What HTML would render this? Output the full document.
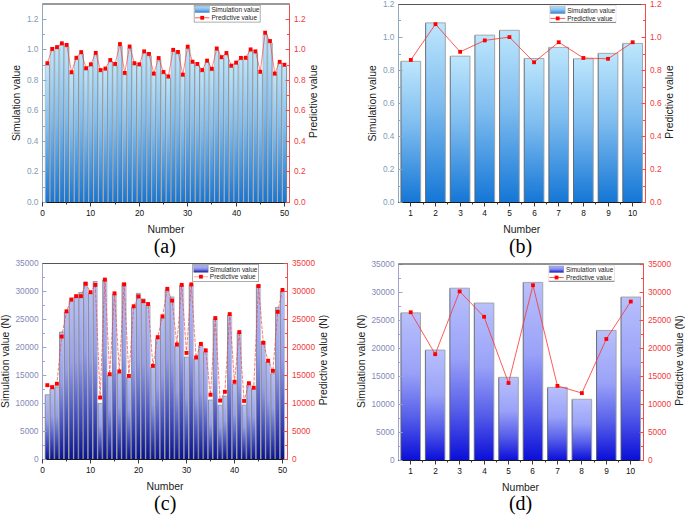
<!DOCTYPE html>
<html><head><meta charset="utf-8"><style>
html,body{margin:0;padding:0;background:#fff;}
svg{display:block;font-family:"Liberation Sans", sans-serif;}
</style></head><body>
<svg width="685" height="516" viewBox="0 0 685 516">
<defs><linearGradient id="ga" x1="0" y1="0" x2="0" y2="1"><stop offset="0" stop-color="#bde6fc"/><stop offset="0.45" stop-color="#7fbdf0"/><stop offset="1" stop-color="#1476d6"/></linearGradient><linearGradient id="gla" x1="0" y1="0" x2="0" y2="1"><stop offset="0" stop-color="#b0dcf8"/><stop offset="0.5" stop-color="#80bcf0"/><stop offset="1" stop-color="#2a80d8"/></linearGradient><linearGradient id="gb" x1="0" y1="0" x2="0" y2="1"><stop offset="0" stop-color="#bde6fc"/><stop offset="0.45" stop-color="#7fbdf0"/><stop offset="1" stop-color="#1476d6"/></linearGradient><linearGradient id="glb" x1="0" y1="0" x2="0" y2="1"><stop offset="0" stop-color="#b0dcf8"/><stop offset="0.5" stop-color="#80bcf0"/><stop offset="1" stop-color="#2a80d8"/></linearGradient><linearGradient id="gc" x1="0" y1="0" x2="0" y2="1"><stop offset="0" stop-color="#b8c0f8"/><stop offset="0.4" stop-color="#949eec"/><stop offset="0.7" stop-color="#4a56c8"/><stop offset="1" stop-color="#08128e"/></linearGradient><linearGradient id="glc" x1="0" y1="0" x2="0" y2="1"><stop offset="0" stop-color="#b0b8fc"/><stop offset="0.5" stop-color="#8a92ec"/><stop offset="1" stop-color="#1a1c9a"/></linearGradient><linearGradient id="gd" x1="0" y1="0" x2="0" y2="1"><stop offset="0" stop-color="#b8c0fc"/><stop offset="0.4" stop-color="#9aa2f8"/><stop offset="0.7" stop-color="#5860ea"/><stop offset="1" stop-color="#0a0ed8"/></linearGradient><linearGradient id="gld" x1="0" y1="0" x2="0" y2="1"><stop offset="0" stop-color="#b0b8fc"/><stop offset="0.5" stop-color="#8088f0"/><stop offset="1" stop-color="#1010c8"/></linearGradient></defs>
<rect width="685" height="516" fill="#fff"/>
<rect x="45.21" y="64.99" width="4.26" height="137.51" fill="url(#ga)"/>
<path d="M45.21 202.5V64.99" stroke="#b4b4b4" stroke-width="0.75" fill="none"/>
<path d="M45.21 64.99H49.47" stroke="#8a8a8a" stroke-width="0.75" fill="none"/>
<path d="M49.47 64.99V202.5" stroke="#6c6c6c" stroke-width="0.75" fill="none"/>
<rect x="50.05" y="50.7" width="4.26" height="151.8" fill="url(#ga)"/>
<path d="M50.05 202.5V50.7" stroke="#b4b4b4" stroke-width="0.75" fill="none"/>
<path d="M50.05 50.7H54.31" stroke="#8a8a8a" stroke-width="0.75" fill="none"/>
<path d="M54.31 50.7V202.5" stroke="#6c6c6c" stroke-width="0.75" fill="none"/>
<rect x="54.89" y="48.88" width="4.26" height="153.62" fill="url(#ga)"/>
<path d="M54.89 202.5V48.88" stroke="#b4b4b4" stroke-width="0.75" fill="none"/>
<path d="M54.89 48.88H59.15" stroke="#8a8a8a" stroke-width="0.75" fill="none"/>
<path d="M59.15 48.88V202.5" stroke="#6c6c6c" stroke-width="0.75" fill="none"/>
<rect x="59.73" y="45.08" width="4.26" height="157.42" fill="url(#ga)"/>
<path d="M59.73 202.5V45.08" stroke="#b4b4b4" stroke-width="0.75" fill="none"/>
<path d="M59.73 45.08H63.99" stroke="#8a8a8a" stroke-width="0.75" fill="none"/>
<path d="M63.99 45.08V202.5" stroke="#6c6c6c" stroke-width="0.75" fill="none"/>
<rect x="64.57" y="46.75" width="4.26" height="155.75" fill="url(#ga)"/>
<path d="M64.57 202.5V46.75" stroke="#b4b4b4" stroke-width="0.75" fill="none"/>
<path d="M64.57 46.75H68.83" stroke="#8a8a8a" stroke-width="0.75" fill="none"/>
<path d="M68.83 46.75V202.5" stroke="#6c6c6c" stroke-width="0.75" fill="none"/>
<rect x="69.41" y="73.96" width="4.26" height="128.54" fill="url(#ga)"/>
<path d="M69.41 202.5V73.96" stroke="#b4b4b4" stroke-width="0.75" fill="none"/>
<path d="M69.41 73.96H73.67" stroke="#8a8a8a" stroke-width="0.75" fill="none"/>
<path d="M73.67 73.96V202.5" stroke="#6c6c6c" stroke-width="0.75" fill="none"/>
<rect x="74.25" y="59.52" width="4.26" height="142.98" fill="url(#ga)"/>
<path d="M74.25 202.5V59.52" stroke="#b4b4b4" stroke-width="0.75" fill="none"/>
<path d="M74.25 59.52H78.51" stroke="#8a8a8a" stroke-width="0.75" fill="none"/>
<path d="M78.51 59.52V202.5" stroke="#6c6c6c" stroke-width="0.75" fill="none"/>
<rect x="79.09" y="53.9" width="4.26" height="148.6" fill="url(#ga)"/>
<path d="M79.09 202.5V53.9" stroke="#b4b4b4" stroke-width="0.75" fill="none"/>
<path d="M79.09 53.9H83.35" stroke="#8a8a8a" stroke-width="0.75" fill="none"/>
<path d="M83.35 53.9V202.5" stroke="#6c6c6c" stroke-width="0.75" fill="none"/>
<rect x="83.93" y="70.01" width="4.26" height="132.49" fill="url(#ga)"/>
<path d="M83.93 202.5V70.01" stroke="#b4b4b4" stroke-width="0.75" fill="none"/>
<path d="M83.93 70.01H88.19" stroke="#8a8a8a" stroke-width="0.75" fill="none"/>
<path d="M88.19 70.01V202.5" stroke="#6c6c6c" stroke-width="0.75" fill="none"/>
<rect x="88.77" y="66.06" width="4.26" height="136.44" fill="url(#ga)"/>
<path d="M88.77 202.5V66.06" stroke="#b4b4b4" stroke-width="0.75" fill="none"/>
<path d="M88.77 66.06H93.03" stroke="#8a8a8a" stroke-width="0.75" fill="none"/>
<path d="M93.03 66.06V202.5" stroke="#6c6c6c" stroke-width="0.75" fill="none"/>
<rect x="93.61" y="54.66" width="4.26" height="147.84" fill="url(#ga)"/>
<path d="M93.61 202.5V54.66" stroke="#b4b4b4" stroke-width="0.75" fill="none"/>
<path d="M93.61 54.66H97.87" stroke="#8a8a8a" stroke-width="0.75" fill="none"/>
<path d="M97.87 54.66V202.5" stroke="#6c6c6c" stroke-width="0.75" fill="none"/>
<rect x="98.45" y="71.83" width="4.26" height="130.67" fill="url(#ga)"/>
<path d="M98.45 202.5V71.83" stroke="#b4b4b4" stroke-width="0.75" fill="none"/>
<path d="M98.45 71.83H102.71" stroke="#8a8a8a" stroke-width="0.75" fill="none"/>
<path d="M102.71 71.83V202.5" stroke="#6c6c6c" stroke-width="0.75" fill="none"/>
<rect x="103.29" y="70.31" width="4.26" height="132.19" fill="url(#ga)"/>
<path d="M103.29 202.5V70.31" stroke="#b4b4b4" stroke-width="0.75" fill="none"/>
<path d="M103.29 70.31H107.55" stroke="#8a8a8a" stroke-width="0.75" fill="none"/>
<path d="M107.55 70.31V202.5" stroke="#6c6c6c" stroke-width="0.75" fill="none"/>
<rect x="108.13" y="61.8" width="4.26" height="140.7" fill="url(#ga)"/>
<path d="M108.13 202.5V61.8" stroke="#b4b4b4" stroke-width="0.75" fill="none"/>
<path d="M108.13 61.8H112.39" stroke="#8a8a8a" stroke-width="0.75" fill="none"/>
<path d="M112.39 61.8V202.5" stroke="#6c6c6c" stroke-width="0.75" fill="none"/>
<rect x="112.97" y="65.75" width="4.26" height="136.75" fill="url(#ga)"/>
<path d="M112.97 202.5V65.75" stroke="#b4b4b4" stroke-width="0.75" fill="none"/>
<path d="M112.97 65.75H117.23" stroke="#8a8a8a" stroke-width="0.75" fill="none"/>
<path d="M117.23 65.75V202.5" stroke="#6c6c6c" stroke-width="0.75" fill="none"/>
<rect x="117.81" y="45.84" width="4.26" height="156.66" fill="url(#ga)"/>
<path d="M117.81 202.5V45.84" stroke="#b4b4b4" stroke-width="0.75" fill="none"/>
<path d="M117.81 45.84H122.07" stroke="#8a8a8a" stroke-width="0.75" fill="none"/>
<path d="M122.07 45.84V202.5" stroke="#6c6c6c" stroke-width="0.75" fill="none"/>
<rect x="122.65" y="74.72" width="4.26" height="127.78" fill="url(#ga)"/>
<path d="M122.65 202.5V74.72" stroke="#b4b4b4" stroke-width="0.75" fill="none"/>
<path d="M122.65 74.72H126.91" stroke="#8a8a8a" stroke-width="0.75" fill="none"/>
<path d="M126.91 74.72V202.5" stroke="#6c6c6c" stroke-width="0.75" fill="none"/>
<rect x="127.49" y="48.27" width="4.26" height="154.23" fill="url(#ga)"/>
<path d="M127.49 202.5V48.27" stroke="#b4b4b4" stroke-width="0.75" fill="none"/>
<path d="M127.49 48.27H131.75" stroke="#8a8a8a" stroke-width="0.75" fill="none"/>
<path d="M131.75 48.27V202.5" stroke="#6c6c6c" stroke-width="0.75" fill="none"/>
<rect x="132.33" y="64.99" width="4.26" height="137.51" fill="url(#ga)"/>
<path d="M132.33 202.5V64.99" stroke="#b4b4b4" stroke-width="0.75" fill="none"/>
<path d="M132.33 64.99H136.59" stroke="#8a8a8a" stroke-width="0.75" fill="none"/>
<path d="M136.59 64.99V202.5" stroke="#6c6c6c" stroke-width="0.75" fill="none"/>
<rect x="137.17" y="66.06" width="4.26" height="136.44" fill="url(#ga)"/>
<path d="M137.17 202.5V66.06" stroke="#b4b4b4" stroke-width="0.75" fill="none"/>
<path d="M137.17 66.06H141.43" stroke="#8a8a8a" stroke-width="0.75" fill="none"/>
<path d="M141.43 66.06V202.5" stroke="#6c6c6c" stroke-width="0.75" fill="none"/>
<rect x="142.01" y="53.14" width="4.26" height="149.36" fill="url(#ga)"/>
<path d="M142.01 202.5V53.14" stroke="#b4b4b4" stroke-width="0.75" fill="none"/>
<path d="M142.01 53.14H146.27" stroke="#8a8a8a" stroke-width="0.75" fill="none"/>
<path d="M146.27 53.14V202.5" stroke="#6c6c6c" stroke-width="0.75" fill="none"/>
<rect x="146.85" y="55.72" width="4.26" height="146.78" fill="url(#ga)"/>
<path d="M146.85 202.5V55.72" stroke="#b4b4b4" stroke-width="0.75" fill="none"/>
<path d="M146.85 55.72H151.11" stroke="#8a8a8a" stroke-width="0.75" fill="none"/>
<path d="M151.11 55.72V202.5" stroke="#6c6c6c" stroke-width="0.75" fill="none"/>
<rect x="151.69" y="75.33" width="4.26" height="127.17" fill="url(#ga)"/>
<path d="M151.69 202.5V75.33" stroke="#b4b4b4" stroke-width="0.75" fill="none"/>
<path d="M151.69 75.33H155.95" stroke="#8a8a8a" stroke-width="0.75" fill="none"/>
<path d="M155.95 75.33V202.5" stroke="#6c6c6c" stroke-width="0.75" fill="none"/>
<rect x="156.53" y="59.82" width="4.26" height="142.68" fill="url(#ga)"/>
<path d="M156.53 202.5V59.82" stroke="#b4b4b4" stroke-width="0.75" fill="none"/>
<path d="M156.53 59.82H160.79" stroke="#8a8a8a" stroke-width="0.75" fill="none"/>
<path d="M160.79 59.82V202.5" stroke="#6c6c6c" stroke-width="0.75" fill="none"/>
<rect x="161.37" y="73.81" width="4.26" height="128.69" fill="url(#ga)"/>
<path d="M161.37 202.5V73.81" stroke="#b4b4b4" stroke-width="0.75" fill="none"/>
<path d="M161.37 73.81H165.63" stroke="#8a8a8a" stroke-width="0.75" fill="none"/>
<path d="M165.63 73.81V202.5" stroke="#6c6c6c" stroke-width="0.75" fill="none"/>
<rect x="166.21" y="78.22" width="4.26" height="124.28" fill="url(#ga)"/>
<path d="M166.21 202.5V78.22" stroke="#b4b4b4" stroke-width="0.75" fill="none"/>
<path d="M166.21 78.22H170.47" stroke="#8a8a8a" stroke-width="0.75" fill="none"/>
<path d="M170.47 78.22V202.5" stroke="#6c6c6c" stroke-width="0.75" fill="none"/>
<rect x="171.05" y="51.62" width="4.26" height="150.88" fill="url(#ga)"/>
<path d="M171.05 202.5V51.62" stroke="#b4b4b4" stroke-width="0.75" fill="none"/>
<path d="M171.05 51.62H175.31" stroke="#8a8a8a" stroke-width="0.75" fill="none"/>
<path d="M175.31 51.62V202.5" stroke="#6c6c6c" stroke-width="0.75" fill="none"/>
<rect x="175.89" y="53.74" width="4.26" height="148.76" fill="url(#ga)"/>
<path d="M175.89 202.5V53.74" stroke="#b4b4b4" stroke-width="0.75" fill="none"/>
<path d="M175.89 53.74H180.15" stroke="#8a8a8a" stroke-width="0.75" fill="none"/>
<path d="M180.15 53.74V202.5" stroke="#6c6c6c" stroke-width="0.75" fill="none"/>
<rect x="180.73" y="76.39" width="4.26" height="126.11" fill="url(#ga)"/>
<path d="M180.73 202.5V76.39" stroke="#b4b4b4" stroke-width="0.75" fill="none"/>
<path d="M180.73 76.39H184.99" stroke="#8a8a8a" stroke-width="0.75" fill="none"/>
<path d="M184.99 76.39V202.5" stroke="#6c6c6c" stroke-width="0.75" fill="none"/>
<rect x="185.57" y="48.42" width="4.26" height="154.08" fill="url(#ga)"/>
<path d="M185.57 202.5V48.42" stroke="#b4b4b4" stroke-width="0.75" fill="none"/>
<path d="M185.57 48.42H189.83" stroke="#8a8a8a" stroke-width="0.75" fill="none"/>
<path d="M189.83 48.42V202.5" stroke="#6c6c6c" stroke-width="0.75" fill="none"/>
<rect x="190.41" y="63.47" width="4.26" height="139.03" fill="url(#ga)"/>
<path d="M190.41 202.5V63.47" stroke="#b4b4b4" stroke-width="0.75" fill="none"/>
<path d="M190.41 63.47H194.67" stroke="#8a8a8a" stroke-width="0.75" fill="none"/>
<path d="M194.67 63.47V202.5" stroke="#6c6c6c" stroke-width="0.75" fill="none"/>
<rect x="195.25" y="65.75" width="4.26" height="136.75" fill="url(#ga)"/>
<path d="M195.25 202.5V65.75" stroke="#b4b4b4" stroke-width="0.75" fill="none"/>
<path d="M195.25 65.75H199.51" stroke="#8a8a8a" stroke-width="0.75" fill="none"/>
<path d="M199.51 65.75V202.5" stroke="#6c6c6c" stroke-width="0.75" fill="none"/>
<rect x="200.09" y="71.83" width="4.26" height="130.67" fill="url(#ga)"/>
<path d="M200.09 202.5V71.83" stroke="#b4b4b4" stroke-width="0.75" fill="none"/>
<path d="M200.09 71.83H204.35" stroke="#8a8a8a" stroke-width="0.75" fill="none"/>
<path d="M204.35 71.83V202.5" stroke="#6c6c6c" stroke-width="0.75" fill="none"/>
<rect x="204.93" y="62.41" width="4.26" height="140.09" fill="url(#ga)"/>
<path d="M204.93 202.5V62.41" stroke="#b4b4b4" stroke-width="0.75" fill="none"/>
<path d="M204.93 62.41H209.19" stroke="#8a8a8a" stroke-width="0.75" fill="none"/>
<path d="M209.19 62.41V202.5" stroke="#6c6c6c" stroke-width="0.75" fill="none"/>
<rect x="209.77" y="70.62" width="4.26" height="131.88" fill="url(#ga)"/>
<path d="M209.77 202.5V70.62" stroke="#b4b4b4" stroke-width="0.75" fill="none"/>
<path d="M209.77 70.62H214.03" stroke="#8a8a8a" stroke-width="0.75" fill="none"/>
<path d="M214.03 70.62V202.5" stroke="#6c6c6c" stroke-width="0.75" fill="none"/>
<rect x="214.61" y="50.25" width="4.26" height="152.25" fill="url(#ga)"/>
<path d="M214.61 202.5V50.25" stroke="#b4b4b4" stroke-width="0.75" fill="none"/>
<path d="M214.61 50.25H218.87" stroke="#8a8a8a" stroke-width="0.75" fill="none"/>
<path d="M218.87 50.25V202.5" stroke="#6c6c6c" stroke-width="0.75" fill="none"/>
<rect x="219.45" y="58.91" width="4.26" height="143.59" fill="url(#ga)"/>
<path d="M219.45 202.5V58.91" stroke="#b4b4b4" stroke-width="0.75" fill="none"/>
<path d="M219.45 58.91H223.71" stroke="#8a8a8a" stroke-width="0.75" fill="none"/>
<path d="M223.71 58.91V202.5" stroke="#6c6c6c" stroke-width="0.75" fill="none"/>
<rect x="224.29" y="54.81" width="4.26" height="147.69" fill="url(#ga)"/>
<path d="M224.29 202.5V54.81" stroke="#b4b4b4" stroke-width="0.75" fill="none"/>
<path d="M224.29 54.81H228.55" stroke="#8a8a8a" stroke-width="0.75" fill="none"/>
<path d="M228.55 54.81V202.5" stroke="#6c6c6c" stroke-width="0.75" fill="none"/>
<rect x="229.13" y="67.42" width="4.26" height="135.08" fill="url(#ga)"/>
<path d="M229.13 202.5V67.42" stroke="#b4b4b4" stroke-width="0.75" fill="none"/>
<path d="M229.13 67.42H233.39" stroke="#8a8a8a" stroke-width="0.75" fill="none"/>
<path d="M233.39 67.42V202.5" stroke="#6c6c6c" stroke-width="0.75" fill="none"/>
<rect x="233.97" y="64.38" width="4.26" height="138.12" fill="url(#ga)"/>
<path d="M233.97 202.5V64.38" stroke="#b4b4b4" stroke-width="0.75" fill="none"/>
<path d="M233.97 64.38H238.23" stroke="#8a8a8a" stroke-width="0.75" fill="none"/>
<path d="M238.23 64.38V202.5" stroke="#6c6c6c" stroke-width="0.75" fill="none"/>
<rect x="238.81" y="59.67" width="4.26" height="142.83" fill="url(#ga)"/>
<path d="M238.81 202.5V59.67" stroke="#b4b4b4" stroke-width="0.75" fill="none"/>
<path d="M238.81 59.67H243.07" stroke="#8a8a8a" stroke-width="0.75" fill="none"/>
<path d="M243.07 59.67V202.5" stroke="#6c6c6c" stroke-width="0.75" fill="none"/>
<rect x="243.65" y="59.52" width="4.26" height="142.98" fill="url(#ga)"/>
<path d="M243.65 202.5V59.52" stroke="#b4b4b4" stroke-width="0.75" fill="none"/>
<path d="M243.65 59.52H247.91" stroke="#8a8a8a" stroke-width="0.75" fill="none"/>
<path d="M247.91 59.52V202.5" stroke="#6c6c6c" stroke-width="0.75" fill="none"/>
<rect x="248.49" y="51.16" width="4.26" height="151.34" fill="url(#ga)"/>
<path d="M248.49 202.5V51.16" stroke="#b4b4b4" stroke-width="0.75" fill="none"/>
<path d="M248.49 51.16H252.75" stroke="#8a8a8a" stroke-width="0.75" fill="none"/>
<path d="M252.75 51.16V202.5" stroke="#6c6c6c" stroke-width="0.75" fill="none"/>
<rect x="253.33" y="53.14" width="4.26" height="149.36" fill="url(#ga)"/>
<path d="M253.33 202.5V53.14" stroke="#b4b4b4" stroke-width="0.75" fill="none"/>
<path d="M253.33 53.14H257.59" stroke="#8a8a8a" stroke-width="0.75" fill="none"/>
<path d="M257.59 53.14V202.5" stroke="#6c6c6c" stroke-width="0.75" fill="none"/>
<rect x="258.17" y="73.5" width="4.26" height="129" fill="url(#ga)"/>
<path d="M258.17 202.5V73.5" stroke="#b4b4b4" stroke-width="0.75" fill="none"/>
<path d="M258.17 73.5H262.43" stroke="#8a8a8a" stroke-width="0.75" fill="none"/>
<path d="M262.43 73.5V202.5" stroke="#6c6c6c" stroke-width="0.75" fill="none"/>
<rect x="263.01" y="34.44" width="4.26" height="168.06" fill="url(#ga)"/>
<path d="M263.01 202.5V34.44" stroke="#b4b4b4" stroke-width="0.75" fill="none"/>
<path d="M263.01 34.44H267.27" stroke="#8a8a8a" stroke-width="0.75" fill="none"/>
<path d="M267.27 34.44V202.5" stroke="#6c6c6c" stroke-width="0.75" fill="none"/>
<rect x="267.85" y="42.8" width="4.26" height="159.7" fill="url(#ga)"/>
<path d="M267.85 202.5V42.8" stroke="#b4b4b4" stroke-width="0.75" fill="none"/>
<path d="M267.85 42.8H272.11" stroke="#8a8a8a" stroke-width="0.75" fill="none"/>
<path d="M272.11 42.8V202.5" stroke="#6c6c6c" stroke-width="0.75" fill="none"/>
<rect x="272.69" y="75.33" width="4.26" height="127.17" fill="url(#ga)"/>
<path d="M272.69 202.5V75.33" stroke="#b4b4b4" stroke-width="0.75" fill="none"/>
<path d="M272.69 75.33H276.95" stroke="#8a8a8a" stroke-width="0.75" fill="none"/>
<path d="M276.95 75.33V202.5" stroke="#6c6c6c" stroke-width="0.75" fill="none"/>
<rect x="277.53" y="63.62" width="4.26" height="138.88" fill="url(#ga)"/>
<path d="M277.53 202.5V63.62" stroke="#b4b4b4" stroke-width="0.75" fill="none"/>
<path d="M277.53 63.62H281.79" stroke="#8a8a8a" stroke-width="0.75" fill="none"/>
<path d="M281.79 63.62V202.5" stroke="#6c6c6c" stroke-width="0.75" fill="none"/>
<rect x="282.37" y="66.51" width="4.26" height="135.99" fill="url(#ga)"/>
<path d="M282.37 202.5V66.51" stroke="#b4b4b4" stroke-width="0.75" fill="none"/>
<path d="M282.37 66.51H286.63" stroke="#8a8a8a" stroke-width="0.75" fill="none"/>
<path d="M286.63 66.51V202.5" stroke="#6c6c6c" stroke-width="0.75" fill="none"/>
<polyline points="47.34,63.17 52.18,48.88 57.02,47.06 61.86,43.26 66.7,44.93 71.54,72.14 76.38,57.7 81.22,52.07 86.06,68.18 90.9,64.23 95.74,52.83 100.58,70.01 105.42,68.49 110.26,59.98 115.1,63.93 119.94,44.02 124.78,72.9 129.62,46.45 134.46,63.17 139.3,64.23 144.14,51.31 148.98,53.9 153.82,73.5 158.66,58 163.5,71.98 168.34,76.39 173.18,49.79 178.02,51.92 182.86,74.57 187.7,46.6 192.54,61.65 197.38,63.93 202.22,70.01 207.06,60.58 211.9,68.79 216.74,48.42 221.58,57.09 226.42,52.98 231.26,65.6 236.1,62.56 240.94,57.85 245.78,57.7 250.62,49.34 255.46,51.31 260.3,71.68 265.14,32.62 269.98,40.98 274.82,73.5 279.66,61.8 284.5,64.69" fill="none" stroke="#ff3030" stroke-width="0.6"/>
<rect x="45.44" y="61.27" width="3.8" height="3.8" fill="#ff0000"/>
<rect x="50.28" y="46.98" width="3.8" height="3.8" fill="#ff0000"/>
<rect x="55.12" y="45.16" width="3.8" height="3.8" fill="#ff0000"/>
<rect x="59.96" y="41.36" width="3.8" height="3.8" fill="#ff0000"/>
<rect x="64.8" y="43.03" width="3.8" height="3.8" fill="#ff0000"/>
<rect x="69.64" y="70.24" width="3.8" height="3.8" fill="#ff0000"/>
<rect x="74.48" y="55.8" width="3.8" height="3.8" fill="#ff0000"/>
<rect x="79.32" y="50.17" width="3.8" height="3.8" fill="#ff0000"/>
<rect x="84.16" y="66.28" width="3.8" height="3.8" fill="#ff0000"/>
<rect x="89" y="62.33" width="3.8" height="3.8" fill="#ff0000"/>
<rect x="93.84" y="50.93" width="3.8" height="3.8" fill="#ff0000"/>
<rect x="98.68" y="68.11" width="3.8" height="3.8" fill="#ff0000"/>
<rect x="103.52" y="66.59" width="3.8" height="3.8" fill="#ff0000"/>
<rect x="108.36" y="58.08" width="3.8" height="3.8" fill="#ff0000"/>
<rect x="113.2" y="62.03" width="3.8" height="3.8" fill="#ff0000"/>
<rect x="118.04" y="42.12" width="3.8" height="3.8" fill="#ff0000"/>
<rect x="122.88" y="71" width="3.8" height="3.8" fill="#ff0000"/>
<rect x="127.72" y="44.55" width="3.8" height="3.8" fill="#ff0000"/>
<rect x="132.56" y="61.27" width="3.8" height="3.8" fill="#ff0000"/>
<rect x="137.4" y="62.33" width="3.8" height="3.8" fill="#ff0000"/>
<rect x="142.24" y="49.41" width="3.8" height="3.8" fill="#ff0000"/>
<rect x="147.08" y="52" width="3.8" height="3.8" fill="#ff0000"/>
<rect x="151.92" y="71.6" width="3.8" height="3.8" fill="#ff0000"/>
<rect x="156.76" y="56.1" width="3.8" height="3.8" fill="#ff0000"/>
<rect x="161.6" y="70.08" width="3.8" height="3.8" fill="#ff0000"/>
<rect x="166.44" y="74.49" width="3.8" height="3.8" fill="#ff0000"/>
<rect x="171.28" y="47.89" width="3.8" height="3.8" fill="#ff0000"/>
<rect x="176.12" y="50.02" width="3.8" height="3.8" fill="#ff0000"/>
<rect x="180.96" y="72.67" width="3.8" height="3.8" fill="#ff0000"/>
<rect x="185.8" y="44.7" width="3.8" height="3.8" fill="#ff0000"/>
<rect x="190.64" y="59.75" width="3.8" height="3.8" fill="#ff0000"/>
<rect x="195.48" y="62.03" width="3.8" height="3.8" fill="#ff0000"/>
<rect x="200.32" y="68.11" width="3.8" height="3.8" fill="#ff0000"/>
<rect x="205.16" y="58.68" width="3.8" height="3.8" fill="#ff0000"/>
<rect x="210" y="66.89" width="3.8" height="3.8" fill="#ff0000"/>
<rect x="214.84" y="46.52" width="3.8" height="3.8" fill="#ff0000"/>
<rect x="219.68" y="55.19" width="3.8" height="3.8" fill="#ff0000"/>
<rect x="224.52" y="51.08" width="3.8" height="3.8" fill="#ff0000"/>
<rect x="229.36" y="63.7" width="3.8" height="3.8" fill="#ff0000"/>
<rect x="234.2" y="60.66" width="3.8" height="3.8" fill="#ff0000"/>
<rect x="239.04" y="55.95" width="3.8" height="3.8" fill="#ff0000"/>
<rect x="243.88" y="55.8" width="3.8" height="3.8" fill="#ff0000"/>
<rect x="248.72" y="47.44" width="3.8" height="3.8" fill="#ff0000"/>
<rect x="253.56" y="49.41" width="3.8" height="3.8" fill="#ff0000"/>
<rect x="258.4" y="69.78" width="3.8" height="3.8" fill="#ff0000"/>
<rect x="263.24" y="30.72" width="3.8" height="3.8" fill="#ff0000"/>
<rect x="268.08" y="39.08" width="3.8" height="3.8" fill="#ff0000"/>
<rect x="272.92" y="71.6" width="3.8" height="3.8" fill="#ff0000"/>
<rect x="277.76" y="59.9" width="3.8" height="3.8" fill="#ff0000"/>
<rect x="282.6" y="62.79" width="3.8" height="3.8" fill="#ff0000"/>
<line x1="42.5" y1="3.5" x2="42.5" y2="202.5" stroke="#8ea8bd" stroke-width="1"/>
<line x1="289.5" y1="3.5" x2="289.5" y2="203" stroke="#f04c4c" stroke-width="1"/>
<line x1="42" y1="202.5" x2="289" y2="202.5" stroke="#1a1a1a" stroke-width="1.2"/>
<line x1="42.5" y1="202.5" x2="46.5" y2="202.5" stroke="#8ea8bd" stroke-width="1"/>
<text x="38.5" y="202.3" fill="#7f9cb5" font-size="8.3" text-anchor="end" dominant-baseline="central">0.0</text>
<text x="294" y="202.3" fill="#f03a3a" font-size="8.3" text-anchor="start" dominant-baseline="central">0.0</text>
<line x1="42.5" y1="171.5" x2="46.5" y2="171.5" stroke="#8ea8bd" stroke-width="1"/>
<text x="38.5" y="171.3" fill="#7f9cb5" font-size="8.3" text-anchor="end" dominant-baseline="central">0.2</text>
<text x="294" y="171.3" fill="#f03a3a" font-size="8.3" text-anchor="start" dominant-baseline="central">0.2</text>
<line x1="42.5" y1="141.5" x2="46.5" y2="141.5" stroke="#8ea8bd" stroke-width="1"/>
<text x="38.5" y="141.3" fill="#7f9cb5" font-size="8.3" text-anchor="end" dominant-baseline="central">0.4</text>
<text x="294" y="141.3" fill="#f03a3a" font-size="8.3" text-anchor="start" dominant-baseline="central">0.4</text>
<line x1="42.5" y1="110.5" x2="46.5" y2="110.5" stroke="#8ea8bd" stroke-width="1"/>
<text x="38.5" y="110.3" fill="#7f9cb5" font-size="8.3" text-anchor="end" dominant-baseline="central">0.6</text>
<text x="294" y="110.3" fill="#f03a3a" font-size="8.3" text-anchor="start" dominant-baseline="central">0.6</text>
<line x1="42.5" y1="80.5" x2="46.5" y2="80.5" stroke="#8ea8bd" stroke-width="1"/>
<text x="38.5" y="80.3" fill="#7f9cb5" font-size="8.3" text-anchor="end" dominant-baseline="central">0.8</text>
<text x="294" y="80.3" fill="#f03a3a" font-size="8.3" text-anchor="start" dominant-baseline="central">0.8</text>
<line x1="42.5" y1="49.5" x2="46.5" y2="49.5" stroke="#8ea8bd" stroke-width="1"/>
<text x="38.5" y="49.3" fill="#7f9cb5" font-size="8.3" text-anchor="end" dominant-baseline="central">1.0</text>
<text x="294" y="49.3" fill="#f03a3a" font-size="8.3" text-anchor="start" dominant-baseline="central">1.0</text>
<line x1="42.5" y1="19.5" x2="46.5" y2="19.5" stroke="#8ea8bd" stroke-width="1"/>
<text x="38.5" y="19.3" fill="#7f9cb5" font-size="8.3" text-anchor="end" dominant-baseline="central">1.2</text>
<text x="294" y="19.3" fill="#f03a3a" font-size="8.3" text-anchor="start" dominant-baseline="central">1.2</text>
<line x1="42.5" y1="187.5" x2="45" y2="187.5" stroke="#8ea8bd" stroke-width="1"/>
<line x1="42.5" y1="156.5" x2="45" y2="156.5" stroke="#8ea8bd" stroke-width="1"/>
<line x1="42.5" y1="126.5" x2="45" y2="126.5" stroke="#8ea8bd" stroke-width="1"/>
<line x1="42.5" y1="95.5" x2="45" y2="95.5" stroke="#8ea8bd" stroke-width="1"/>
<line x1="42.5" y1="65.5" x2="45" y2="65.5" stroke="#8ea8bd" stroke-width="1"/>
<line x1="42.5" y1="34.5" x2="45" y2="34.5" stroke="#8ea8bd" stroke-width="1"/>
<line x1="42.5" y1="4" x2="289.5" y2="4" stroke="#9a9a9a" stroke-width="2"/>
<line x1="285.5" y1="202.5" x2="289.5" y2="202.5" stroke="#f04c4c" stroke-width="1"/>
<line x1="285.5" y1="171.5" x2="289.5" y2="171.5" stroke="#f04c4c" stroke-width="1"/>
<line x1="285.5" y1="141.5" x2="289.5" y2="141.5" stroke="#f04c4c" stroke-width="1"/>
<line x1="285.5" y1="110.5" x2="289.5" y2="110.5" stroke="#f04c4c" stroke-width="1"/>
<line x1="285.5" y1="80.5" x2="289.5" y2="80.5" stroke="#f04c4c" stroke-width="1"/>
<line x1="285.5" y1="49.5" x2="289.5" y2="49.5" stroke="#f04c4c" stroke-width="1"/>
<line x1="285.5" y1="19.5" x2="289.5" y2="19.5" stroke="#f04c4c" stroke-width="1"/>
<line x1="287" y1="187.5" x2="289.5" y2="187.5" stroke="#f04c4c" stroke-width="1"/>
<line x1="287" y1="156.5" x2="289.5" y2="156.5" stroke="#f04c4c" stroke-width="1"/>
<line x1="287" y1="126.5" x2="289.5" y2="126.5" stroke="#f04c4c" stroke-width="1"/>
<line x1="287" y1="95.5" x2="289.5" y2="95.5" stroke="#f04c4c" stroke-width="1"/>
<line x1="287" y1="65.5" x2="289.5" y2="65.5" stroke="#f04c4c" stroke-width="1"/>
<line x1="287" y1="34.5" x2="289.5" y2="34.5" stroke="#f04c4c" stroke-width="1"/>
<line x1="42.5" y1="202.5" x2="42.5" y2="206.5" stroke="#3a3a3a" stroke-width="1"/>
<text x="42.5" y="213" fill="#111" font-size="8.3" text-anchor="middle" dominant-baseline="central">0</text>
<line x1="90.5" y1="202.5" x2="90.5" y2="206.5" stroke="#3a3a3a" stroke-width="1"/>
<text x="90.5" y="213" fill="#111" font-size="8.3" text-anchor="middle" dominant-baseline="central">10</text>
<line x1="139.5" y1="202.5" x2="139.5" y2="206.5" stroke="#3a3a3a" stroke-width="1"/>
<text x="139.5" y="213" fill="#111" font-size="8.3" text-anchor="middle" dominant-baseline="central">20</text>
<line x1="187.5" y1="202.5" x2="187.5" y2="206.5" stroke="#3a3a3a" stroke-width="1"/>
<text x="187.5" y="213" fill="#111" font-size="8.3" text-anchor="middle" dominant-baseline="central">30</text>
<line x1="236.5" y1="202.5" x2="236.5" y2="206.5" stroke="#3a3a3a" stroke-width="1"/>
<text x="236.5" y="213" fill="#111" font-size="8.3" text-anchor="middle" dominant-baseline="central">40</text>
<line x1="284.5" y1="202.5" x2="284.5" y2="206.5" stroke="#3a3a3a" stroke-width="1"/>
<text x="284.5" y="213" fill="#111" font-size="8.3" text-anchor="middle" dominant-baseline="central">50</text>
<line x1="66.5" y1="202.5" x2="66.5" y2="204.5" stroke="#3a3a3a" stroke-width="1"/>
<line x1="115.5" y1="202.5" x2="115.5" y2="204.5" stroke="#3a3a3a" stroke-width="1"/>
<line x1="163.5" y1="202.5" x2="163.5" y2="204.5" stroke="#3a3a3a" stroke-width="1"/>
<line x1="211.5" y1="202.5" x2="211.5" y2="204.5" stroke="#3a3a3a" stroke-width="1"/>
<line x1="260.5" y1="202.5" x2="260.5" y2="204.5" stroke="#3a3a3a" stroke-width="1"/>
<text x="165.9" y="229.6" fill="#222" font-size="10.4" text-anchor="middle" dominant-baseline="central">Number</text>
<text x="16.4" y="103" fill="#222" font-size="10.4" text-anchor="middle" dominant-baseline="central" transform="rotate(-90 16.4 103)">Simulation value</text>
<text x="314" y="101.3" fill="#222" font-size="10.4" text-anchor="middle" dominant-baseline="central" transform="rotate(-90 314 101.3)">Predictive value</text>
<text x="164.8" y="245.6" fill="#000" font-size="20" font-family='"Liberation Serif", serif' text-anchor="middle" dominant-baseline="central">(a)</text>
<rect x="194.2" y="5.5" width="66" height="16.6" fill="#fff" stroke="#999" stroke-width="0.8"/>
<rect x="195" y="6.2" width="14.4" height="6.5" fill="url(#gla)" stroke="#8fa6bc" stroke-width="0.5"/>
<line x1="195" y1="17.8" x2="209.4" y2="17.8" stroke="#ff3030" stroke-width="0.8"/>
<rect x="200.3" y="15.9" width="3.8" height="3.8" fill="#ff0000"/>
<text x="211.5" y="9.7" fill="#222" font-size="7.2" textLength="48" lengthAdjust="spacingAndGlyphs" dominant-baseline="central">Simulation value</text>
<text x="211.5" y="17.8" fill="#222" font-size="7.2" textLength="45.5" lengthAdjust="spacingAndGlyphs" dominant-baseline="central">Predictive value</text>
<rect x="400.96" y="61.28" width="19.72" height="141.22" fill="url(#gb)"/>
<path d="M400.96 202.5V61.28" stroke="#5a6066" stroke-width="0.9" fill="none"/>
<path d="M400.96 61.28H420.68" stroke="#a0a0a0" stroke-width="0.9" fill="none"/>
<path d="M420.68 61.28V202.5" stroke="#9aa0a6" stroke-width="0.9" fill="none"/>
<rect x="425.62" y="22.86" width="19.72" height="179.64" fill="url(#gb)"/>
<path d="M425.62 202.5V22.86" stroke="#5a6066" stroke-width="0.9" fill="none"/>
<path d="M425.62 22.86H445.34" stroke="#a0a0a0" stroke-width="0.9" fill="none"/>
<path d="M445.34 22.86V202.5" stroke="#9aa0a6" stroke-width="0.9" fill="none"/>
<rect x="450.26" y="56.15" width="19.72" height="146.35" fill="url(#gb)"/>
<path d="M450.26 202.5V56.15" stroke="#5a6066" stroke-width="0.9" fill="none"/>
<path d="M450.26 56.15H469.99" stroke="#a0a0a0" stroke-width="0.9" fill="none"/>
<path d="M469.99 56.15V202.5" stroke="#9aa0a6" stroke-width="0.9" fill="none"/>
<rect x="474.91" y="35.12" width="19.72" height="167.38" fill="url(#gb)"/>
<path d="M474.91 202.5V35.12" stroke="#5a6066" stroke-width="0.9" fill="none"/>
<path d="M474.91 35.12H494.63" stroke="#a0a0a0" stroke-width="0.9" fill="none"/>
<path d="M494.63 35.12V202.5" stroke="#9aa0a6" stroke-width="0.9" fill="none"/>
<rect x="499.56" y="30.31" width="19.72" height="172.19" fill="url(#gb)"/>
<path d="M499.56 202.5V30.31" stroke="#5a6066" stroke-width="0.9" fill="none"/>
<path d="M499.56 30.31H519.28" stroke="#a0a0a0" stroke-width="0.9" fill="none"/>
<path d="M519.28 30.31V202.5" stroke="#9aa0a6" stroke-width="0.9" fill="none"/>
<rect x="524.22" y="58.47" width="19.72" height="144.03" fill="url(#gb)"/>
<path d="M524.22 202.5V58.47" stroke="#5a6066" stroke-width="0.9" fill="none"/>
<path d="M524.22 58.47H543.94" stroke="#a0a0a0" stroke-width="0.9" fill="none"/>
<path d="M543.94 58.47V202.5" stroke="#9aa0a6" stroke-width="0.9" fill="none"/>
<rect x="548.87" y="47.37" width="19.72" height="155.13" fill="url(#gb)"/>
<path d="M548.87 202.5V47.37" stroke="#5a6066" stroke-width="0.9" fill="none"/>
<path d="M548.87 47.37H568.59" stroke="#a0a0a0" stroke-width="0.9" fill="none"/>
<path d="M568.59 47.37V202.5" stroke="#9aa0a6" stroke-width="0.9" fill="none"/>
<rect x="573.51" y="58.8" width="19.72" height="143.7" fill="url(#gb)"/>
<path d="M573.51 202.5V58.8" stroke="#5a6066" stroke-width="0.9" fill="none"/>
<path d="M573.51 58.8H593.24" stroke="#a0a0a0" stroke-width="0.9" fill="none"/>
<path d="M593.24 58.8V202.5" stroke="#9aa0a6" stroke-width="0.9" fill="none"/>
<rect x="598.16" y="53.33" width="19.72" height="149.17" fill="url(#gb)"/>
<path d="M598.16 202.5V53.33" stroke="#5a6066" stroke-width="0.9" fill="none"/>
<path d="M598.16 53.33H617.88" stroke="#a0a0a0" stroke-width="0.9" fill="none"/>
<path d="M617.88 53.33V202.5" stroke="#9aa0a6" stroke-width="0.9" fill="none"/>
<rect x="622.81" y="43.4" width="19.72" height="159.1" fill="url(#gb)"/>
<path d="M622.81 202.5V43.4" stroke="#5a6066" stroke-width="0.9" fill="none"/>
<path d="M622.81 43.4H642.53" stroke="#a0a0a0" stroke-width="0.9" fill="none"/>
<path d="M642.53 43.4V202.5" stroke="#9aa0a6" stroke-width="0.9" fill="none"/>
<polyline points="410.82,59.96 435.48,24.19 460.12,51.84 484.77,40.42 509.43,37.1 534.08,62.27 558.73,42.24 583.38,57.97 608.02,58.8 632.67,42.24" fill="none" stroke="#ff3030" stroke-width="0.8"/>
<rect x="408.93" y="58.06" width="3.8" height="3.8" fill="#ff0000"/>
<rect x="433.58" y="22.29" width="3.8" height="3.8" fill="#ff0000"/>
<rect x="458.23" y="49.94" width="3.8" height="3.8" fill="#ff0000"/>
<rect x="482.88" y="38.52" width="3.8" height="3.8" fill="#ff0000"/>
<rect x="507.53" y="35.2" width="3.8" height="3.8" fill="#ff0000"/>
<rect x="532.18" y="60.37" width="3.8" height="3.8" fill="#ff0000"/>
<rect x="556.83" y="40.34" width="3.8" height="3.8" fill="#ff0000"/>
<rect x="581.48" y="56.07" width="3.8" height="3.8" fill="#ff0000"/>
<rect x="606.12" y="56.9" width="3.8" height="3.8" fill="#ff0000"/>
<rect x="630.77" y="40.34" width="3.8" height="3.8" fill="#ff0000"/>
<line x1="398.5" y1="4" x2="398.5" y2="202.5" stroke="#8ea8bd" stroke-width="1"/>
<line x1="645.5" y1="4" x2="645.5" y2="203" stroke="#f04c4c" stroke-width="1"/>
<line x1="398" y1="202.5" x2="645" y2="202.5" stroke="#1a1a1a" stroke-width="1.2"/>
<line x1="398.5" y1="202.5" x2="402.5" y2="202.5" stroke="#8ea8bd" stroke-width="1"/>
<text x="394.5" y="202.3" fill="#7f9cb5" font-size="8.3" text-anchor="end" dominant-baseline="central">0.0</text>
<text x="650" y="202.3" fill="#f03a3a" font-size="8.3" text-anchor="start" dominant-baseline="central">0.0</text>
<line x1="398.5" y1="169.5" x2="402.5" y2="169.5" stroke="#8ea8bd" stroke-width="1"/>
<text x="394.5" y="169.3" fill="#7f9cb5" font-size="8.3" text-anchor="end" dominant-baseline="central">0.2</text>
<text x="650" y="169.3" fill="#f03a3a" font-size="8.3" text-anchor="start" dominant-baseline="central">0.2</text>
<line x1="398.5" y1="136.5" x2="402.5" y2="136.5" stroke="#8ea8bd" stroke-width="1"/>
<text x="394.5" y="136.3" fill="#7f9cb5" font-size="8.3" text-anchor="end" dominant-baseline="central">0.4</text>
<text x="650" y="136.3" fill="#f03a3a" font-size="8.3" text-anchor="start" dominant-baseline="central">0.4</text>
<line x1="398.5" y1="103.5" x2="402.5" y2="103.5" stroke="#8ea8bd" stroke-width="1"/>
<text x="394.5" y="103.3" fill="#7f9cb5" font-size="8.3" text-anchor="end" dominant-baseline="central">0.6</text>
<text x="650" y="103.3" fill="#f03a3a" font-size="8.3" text-anchor="start" dominant-baseline="central">0.6</text>
<line x1="398.5" y1="70.5" x2="402.5" y2="70.5" stroke="#8ea8bd" stroke-width="1"/>
<text x="394.5" y="70.3" fill="#7f9cb5" font-size="8.3" text-anchor="end" dominant-baseline="central">0.8</text>
<text x="650" y="70.3" fill="#f03a3a" font-size="8.3" text-anchor="start" dominant-baseline="central">0.8</text>
<line x1="398.5" y1="37.5" x2="402.5" y2="37.5" stroke="#8ea8bd" stroke-width="1"/>
<text x="394.5" y="37.3" fill="#7f9cb5" font-size="8.3" text-anchor="end" dominant-baseline="central">1.0</text>
<text x="650" y="37.3" fill="#f03a3a" font-size="8.3" text-anchor="start" dominant-baseline="central">1.0</text>
<line x1="398.5" y1="4.5" x2="402.5" y2="4.5" stroke="#8ea8bd" stroke-width="1"/>
<text x="394.5" y="4.3" fill="#7f9cb5" font-size="8.3" text-anchor="end" dominant-baseline="central">1.2</text>
<text x="650" y="4.3" fill="#f03a3a" font-size="8.3" text-anchor="start" dominant-baseline="central">1.2</text>
<line x1="398.5" y1="186.5" x2="401" y2="186.5" stroke="#8ea8bd" stroke-width="1"/>
<line x1="398.5" y1="153.5" x2="401" y2="153.5" stroke="#8ea8bd" stroke-width="1"/>
<line x1="398.5" y1="120.5" x2="401" y2="120.5" stroke="#8ea8bd" stroke-width="1"/>
<line x1="398.5" y1="87.5" x2="401" y2="87.5" stroke="#8ea8bd" stroke-width="1"/>
<line x1="398.5" y1="54.5" x2="401" y2="54.5" stroke="#8ea8bd" stroke-width="1"/>
<line x1="398.5" y1="20.5" x2="401" y2="20.5" stroke="#8ea8bd" stroke-width="1"/>
<line x1="398.5" y1="4.5" x2="645.5" y2="4.5" stroke="#555" stroke-width="1"/>
<line x1="641.5" y1="202.5" x2="645.5" y2="202.5" stroke="#f04c4c" stroke-width="1"/>
<line x1="641.5" y1="169.5" x2="645.5" y2="169.5" stroke="#f04c4c" stroke-width="1"/>
<line x1="641.5" y1="136.5" x2="645.5" y2="136.5" stroke="#f04c4c" stroke-width="1"/>
<line x1="641.5" y1="103.5" x2="645.5" y2="103.5" stroke="#f04c4c" stroke-width="1"/>
<line x1="641.5" y1="70.5" x2="645.5" y2="70.5" stroke="#f04c4c" stroke-width="1"/>
<line x1="641.5" y1="37.5" x2="645.5" y2="37.5" stroke="#f04c4c" stroke-width="1"/>
<line x1="641.5" y1="4.5" x2="645.5" y2="4.5" stroke="#f04c4c" stroke-width="1"/>
<line x1="643" y1="186.5" x2="645.5" y2="186.5" stroke="#f04c4c" stroke-width="1"/>
<line x1="643" y1="153.5" x2="645.5" y2="153.5" stroke="#f04c4c" stroke-width="1"/>
<line x1="643" y1="120.5" x2="645.5" y2="120.5" stroke="#f04c4c" stroke-width="1"/>
<line x1="643" y1="87.5" x2="645.5" y2="87.5" stroke="#f04c4c" stroke-width="1"/>
<line x1="643" y1="54.5" x2="645.5" y2="54.5" stroke="#f04c4c" stroke-width="1"/>
<line x1="643" y1="20.5" x2="645.5" y2="20.5" stroke="#f04c4c" stroke-width="1"/>
<line x1="410.5" y1="202.5" x2="410.5" y2="206.5" stroke="#3a3a3a" stroke-width="1"/>
<text x="410.5" y="213.3" fill="#111" font-size="8.3" text-anchor="middle" dominant-baseline="central">1</text>
<line x1="435.5" y1="202.5" x2="435.5" y2="206.5" stroke="#3a3a3a" stroke-width="1"/>
<text x="435.5" y="213.3" fill="#111" font-size="8.3" text-anchor="middle" dominant-baseline="central">2</text>
<line x1="460.5" y1="202.5" x2="460.5" y2="206.5" stroke="#3a3a3a" stroke-width="1"/>
<text x="460.5" y="213.3" fill="#111" font-size="8.3" text-anchor="middle" dominant-baseline="central">3</text>
<line x1="484.5" y1="202.5" x2="484.5" y2="206.5" stroke="#3a3a3a" stroke-width="1"/>
<text x="484.5" y="213.3" fill="#111" font-size="8.3" text-anchor="middle" dominant-baseline="central">4</text>
<line x1="509.5" y1="202.5" x2="509.5" y2="206.5" stroke="#3a3a3a" stroke-width="1"/>
<text x="509.5" y="213.3" fill="#111" font-size="8.3" text-anchor="middle" dominant-baseline="central">5</text>
<line x1="534.5" y1="202.5" x2="534.5" y2="206.5" stroke="#3a3a3a" stroke-width="1"/>
<text x="534.5" y="213.3" fill="#111" font-size="8.3" text-anchor="middle" dominant-baseline="central">6</text>
<line x1="558.5" y1="202.5" x2="558.5" y2="206.5" stroke="#3a3a3a" stroke-width="1"/>
<text x="558.5" y="213.3" fill="#111" font-size="8.3" text-anchor="middle" dominant-baseline="central">7</text>
<line x1="583.5" y1="202.5" x2="583.5" y2="206.5" stroke="#3a3a3a" stroke-width="1"/>
<text x="583.5" y="213.3" fill="#111" font-size="8.3" text-anchor="middle" dominant-baseline="central">8</text>
<line x1="608.5" y1="202.5" x2="608.5" y2="206.5" stroke="#3a3a3a" stroke-width="1"/>
<text x="608.5" y="213.3" fill="#111" font-size="8.3" text-anchor="middle" dominant-baseline="central">9</text>
<line x1="632.5" y1="202.5" x2="632.5" y2="206.5" stroke="#3a3a3a" stroke-width="1"/>
<text x="632.5" y="213.3" fill="#111" font-size="8.3" text-anchor="middle" dominant-baseline="central">10</text>
<line x1="423.5" y1="202.5" x2="423.5" y2="204.5" stroke="#3a3a3a" stroke-width="1"/>
<line x1="447.5" y1="202.5" x2="447.5" y2="204.5" stroke="#3a3a3a" stroke-width="1"/>
<line x1="472.5" y1="202.5" x2="472.5" y2="204.5" stroke="#3a3a3a" stroke-width="1"/>
<line x1="497.5" y1="202.5" x2="497.5" y2="204.5" stroke="#3a3a3a" stroke-width="1"/>
<line x1="521.5" y1="202.5" x2="521.5" y2="204.5" stroke="#3a3a3a" stroke-width="1"/>
<line x1="546.5" y1="202.5" x2="546.5" y2="204.5" stroke="#3a3a3a" stroke-width="1"/>
<line x1="571.5" y1="202.5" x2="571.5" y2="204.5" stroke="#3a3a3a" stroke-width="1"/>
<line x1="595.5" y1="202.5" x2="595.5" y2="204.5" stroke="#3a3a3a" stroke-width="1"/>
<line x1="620.5" y1="202.5" x2="620.5" y2="204.5" stroke="#3a3a3a" stroke-width="1"/>
<text x="521.8" y="229.8" fill="#222" font-size="10.4" text-anchor="middle" dominant-baseline="central">Number</text>
<text x="372.7" y="103.4" fill="#222" font-size="10.4" text-anchor="middle" dominant-baseline="central" transform="rotate(-90 372.7 103.4)">Simulation value</text>
<text x="669.3" y="102" fill="#222" font-size="10.4" text-anchor="middle" dominant-baseline="central" transform="rotate(-90 669.3 102)">Predictive value</text>
<text x="520.6" y="245.8" fill="#000" font-size="20" font-family='"Liberation Serif", serif' text-anchor="middle" dominant-baseline="central">(b)</text>
<rect x="549.7" y="5.6" width="66.3" height="16.8" fill="#fff" stroke="#d8d8d8" stroke-width="0.6"/>
<line x1="549.7" y1="22.4" x2="616" y2="22.4" stroke="#777" stroke-width="0.9"/>
<rect x="550.3" y="6.7" width="14.8" height="7" fill="url(#glb)" stroke="#8fa6bc" stroke-width="0.5"/>
<line x1="550.3" y1="18.4" x2="565.1" y2="18.4" stroke="#ff3030" stroke-width="0.8"/>
<rect x="555.8" y="16.5" width="3.8" height="3.8" fill="#ff0000"/>
<text x="567.2" y="10.4" fill="#222" font-size="7.2" textLength="48" lengthAdjust="spacingAndGlyphs" dominant-baseline="central">Simulation value</text>
<text x="567.2" y="18.4" fill="#222" font-size="7.2" textLength="45.5" lengthAdjust="spacingAndGlyphs" dominant-baseline="central">Predictive value</text>
<rect x="45.19" y="394.72" width="4.22" height="64.78" fill="url(#gc)"/>
<path d="M45.19 459.5V394.72" stroke="#707070" stroke-width="0.75" fill="none"/>
<path d="M45.19 394.72H49.41" stroke="#8a8a8a" stroke-width="0.75" fill="none"/>
<path d="M49.41 394.72V459.5" stroke="#c4c4c4" stroke-width="0.75" fill="none"/>
<rect x="49.99" y="388.83" width="4.22" height="70.67" fill="url(#gc)"/>
<path d="M49.99 459.5V388.83" stroke="#707070" stroke-width="0.75" fill="none"/>
<path d="M49.99 388.83H54.21" stroke="#8a8a8a" stroke-width="0.75" fill="none"/>
<path d="M54.21 388.83V459.5" stroke="#c4c4c4" stroke-width="0.75" fill="none"/>
<rect x="54.79" y="386.86" width="4.22" height="72.64" fill="url(#gc)"/>
<path d="M54.79 459.5V386.86" stroke="#707070" stroke-width="0.75" fill="none"/>
<path d="M54.79 386.86H59.01" stroke="#8a8a8a" stroke-width="0.75" fill="none"/>
<path d="M59.01 386.86V459.5" stroke="#c4c4c4" stroke-width="0.75" fill="none"/>
<rect x="59.59" y="332.09" width="4.22" height="127.41" fill="url(#gc)"/>
<path d="M59.59 459.5V332.09" stroke="#707070" stroke-width="0.75" fill="none"/>
<path d="M59.59 332.09H63.81" stroke="#8a8a8a" stroke-width="0.75" fill="none"/>
<path d="M63.81 332.09V459.5" stroke="#c4c4c4" stroke-width="0.75" fill="none"/>
<rect x="64.39" y="312.43" width="4.22" height="147.07" fill="url(#gc)"/>
<path d="M64.39 459.5V312.43" stroke="#707070" stroke-width="0.75" fill="none"/>
<path d="M64.39 312.43H68.61" stroke="#8a8a8a" stroke-width="0.75" fill="none"/>
<path d="M68.61 312.43V459.5" stroke="#c4c4c4" stroke-width="0.75" fill="none"/>
<rect x="69.19" y="301.2" width="4.22" height="158.3" fill="url(#gc)"/>
<path d="M69.19 459.5V301.2" stroke="#707070" stroke-width="0.75" fill="none"/>
<path d="M69.19 301.2H73.41" stroke="#8a8a8a" stroke-width="0.75" fill="none"/>
<path d="M73.41 301.2V459.5" stroke="#c4c4c4" stroke-width="0.75" fill="none"/>
<rect x="73.99" y="297.27" width="4.22" height="162.23" fill="url(#gc)"/>
<path d="M73.99 459.5V297.27" stroke="#707070" stroke-width="0.75" fill="none"/>
<path d="M73.99 297.27H78.21" stroke="#8a8a8a" stroke-width="0.75" fill="none"/>
<path d="M78.21 297.27V459.5" stroke="#c4c4c4" stroke-width="0.75" fill="none"/>
<rect x="78.79" y="292.49" width="4.22" height="167.01" fill="url(#gc)"/>
<path d="M78.79 459.5V292.49" stroke="#707070" stroke-width="0.75" fill="none"/>
<path d="M78.79 292.49H83.01" stroke="#8a8a8a" stroke-width="0.75" fill="none"/>
<path d="M83.01 292.49V459.5" stroke="#c4c4c4" stroke-width="0.75" fill="none"/>
<rect x="83.59" y="282.1" width="4.22" height="177.4" fill="url(#gc)"/>
<path d="M83.59 459.5V282.1" stroke="#707070" stroke-width="0.75" fill="none"/>
<path d="M83.59 282.1H87.81" stroke="#8a8a8a" stroke-width="0.75" fill="none"/>
<path d="M87.81 282.1V459.5" stroke="#c4c4c4" stroke-width="0.75" fill="none"/>
<rect x="88.39" y="293.34" width="4.22" height="166.16" fill="url(#gc)"/>
<path d="M88.39 459.5V293.34" stroke="#707070" stroke-width="0.75" fill="none"/>
<path d="M88.39 293.34H92.61" stroke="#8a8a8a" stroke-width="0.75" fill="none"/>
<path d="M92.61 293.34V459.5" stroke="#c4c4c4" stroke-width="0.75" fill="none"/>
<rect x="93.19" y="281.54" width="4.22" height="177.96" fill="url(#gc)"/>
<path d="M93.19 459.5V281.54" stroke="#707070" stroke-width="0.75" fill="none"/>
<path d="M93.19 281.54H97.41" stroke="#8a8a8a" stroke-width="0.75" fill="none"/>
<path d="M97.41 281.54V459.5" stroke="#c4c4c4" stroke-width="0.75" fill="none"/>
<rect x="97.99" y="403.43" width="4.22" height="56.07" fill="url(#gc)"/>
<path d="M97.99 459.5V403.43" stroke="#707070" stroke-width="0.75" fill="none"/>
<path d="M97.99 403.43H102.21" stroke="#8a8a8a" stroke-width="0.75" fill="none"/>
<path d="M102.21 403.43V459.5" stroke="#c4c4c4" stroke-width="0.75" fill="none"/>
<rect x="102.79" y="279.86" width="4.22" height="179.64" fill="url(#gc)"/>
<path d="M102.79 459.5V279.86" stroke="#707070" stroke-width="0.75" fill="none"/>
<path d="M102.79 279.86H107.01" stroke="#8a8a8a" stroke-width="0.75" fill="none"/>
<path d="M107.01 279.86V459.5" stroke="#c4c4c4" stroke-width="0.75" fill="none"/>
<rect x="107.59" y="375.35" width="4.22" height="84.15" fill="url(#gc)"/>
<path d="M107.59 459.5V375.35" stroke="#707070" stroke-width="0.75" fill="none"/>
<path d="M107.59 375.35H111.81" stroke="#8a8a8a" stroke-width="0.75" fill="none"/>
<path d="M111.81 375.35V459.5" stroke="#c4c4c4" stroke-width="0.75" fill="none"/>
<rect x="112.39" y="294.46" width="4.22" height="165.04" fill="url(#gc)"/>
<path d="M112.39 459.5V294.46" stroke="#707070" stroke-width="0.75" fill="none"/>
<path d="M112.39 294.46H116.61" stroke="#8a8a8a" stroke-width="0.75" fill="none"/>
<path d="M116.61 294.46V459.5" stroke="#c4c4c4" stroke-width="0.75" fill="none"/>
<rect x="117.19" y="373.1" width="4.22" height="86.4" fill="url(#gc)"/>
<path d="M117.19 459.5V373.1" stroke="#707070" stroke-width="0.75" fill="none"/>
<path d="M117.19 373.1H121.41" stroke="#8a8a8a" stroke-width="0.75" fill="none"/>
<path d="M121.41 373.1V459.5" stroke="#c4c4c4" stroke-width="0.75" fill="none"/>
<rect x="121.99" y="283.23" width="4.22" height="176.27" fill="url(#gc)"/>
<path d="M121.99 459.5V283.23" stroke="#707070" stroke-width="0.75" fill="none"/>
<path d="M121.99 283.23H126.21" stroke="#8a8a8a" stroke-width="0.75" fill="none"/>
<path d="M126.21 283.23V459.5" stroke="#c4c4c4" stroke-width="0.75" fill="none"/>
<rect x="126.79" y="377.59" width="4.22" height="81.91" fill="url(#gc)"/>
<path d="M126.79 459.5V377.59" stroke="#707070" stroke-width="0.75" fill="none"/>
<path d="M126.79 377.59H131.01" stroke="#8a8a8a" stroke-width="0.75" fill="none"/>
<path d="M131.01 377.59V459.5" stroke="#c4c4c4" stroke-width="0.75" fill="none"/>
<rect x="131.59" y="307.38" width="4.22" height="152.12" fill="url(#gc)"/>
<path d="M131.59 459.5V307.38" stroke="#707070" stroke-width="0.75" fill="none"/>
<path d="M131.59 307.38H135.81" stroke="#8a8a8a" stroke-width="0.75" fill="none"/>
<path d="M135.81 307.38V459.5" stroke="#c4c4c4" stroke-width="0.75" fill="none"/>
<rect x="136.39" y="293.34" width="4.22" height="166.16" fill="url(#gc)"/>
<path d="M136.39 459.5V293.34" stroke="#707070" stroke-width="0.75" fill="none"/>
<path d="M136.39 293.34H140.61" stroke="#8a8a8a" stroke-width="0.75" fill="none"/>
<path d="M140.61 293.34V459.5" stroke="#c4c4c4" stroke-width="0.75" fill="none"/>
<rect x="141.19" y="298.95" width="4.22" height="160.55" fill="url(#gc)"/>
<path d="M141.19 459.5V298.95" stroke="#707070" stroke-width="0.75" fill="none"/>
<path d="M141.19 298.95H145.41" stroke="#8a8a8a" stroke-width="0.75" fill="none"/>
<path d="M145.41 298.95V459.5" stroke="#c4c4c4" stroke-width="0.75" fill="none"/>
<rect x="145.99" y="305.13" width="4.22" height="154.37" fill="url(#gc)"/>
<path d="M145.99 459.5V305.13" stroke="#707070" stroke-width="0.75" fill="none"/>
<path d="M145.99 305.13H150.21" stroke="#8a8a8a" stroke-width="0.75" fill="none"/>
<path d="M150.21 305.13V459.5" stroke="#c4c4c4" stroke-width="0.75" fill="none"/>
<rect x="150.79" y="367.48" width="4.22" height="92.02" fill="url(#gc)"/>
<path d="M150.79 459.5V367.48" stroke="#707070" stroke-width="0.75" fill="none"/>
<path d="M150.79 367.48H155.01" stroke="#8a8a8a" stroke-width="0.75" fill="none"/>
<path d="M155.01 367.48V459.5" stroke="#c4c4c4" stroke-width="0.75" fill="none"/>
<rect x="155.59" y="338.83" width="4.22" height="120.67" fill="url(#gc)"/>
<path d="M155.59 459.5V338.83" stroke="#707070" stroke-width="0.75" fill="none"/>
<path d="M155.59 338.83H159.81" stroke="#8a8a8a" stroke-width="0.75" fill="none"/>
<path d="M159.81 338.83V459.5" stroke="#c4c4c4" stroke-width="0.75" fill="none"/>
<rect x="160.39" y="318.05" width="4.22" height="141.45" fill="url(#gc)"/>
<path d="M160.39 459.5V318.05" stroke="#707070" stroke-width="0.75" fill="none"/>
<path d="M160.39 318.05H164.61" stroke="#8a8a8a" stroke-width="0.75" fill="none"/>
<path d="M164.61 318.05V459.5" stroke="#c4c4c4" stroke-width="0.75" fill="none"/>
<rect x="165.19" y="289.97" width="4.22" height="169.53" fill="url(#gc)"/>
<path d="M165.19 459.5V289.97" stroke="#707070" stroke-width="0.75" fill="none"/>
<path d="M165.19 289.97H169.41" stroke="#8a8a8a" stroke-width="0.75" fill="none"/>
<path d="M169.41 289.97V459.5" stroke="#c4c4c4" stroke-width="0.75" fill="none"/>
<rect x="169.99" y="296.99" width="4.22" height="162.51" fill="url(#gc)"/>
<path d="M169.99 459.5V296.99" stroke="#707070" stroke-width="0.75" fill="none"/>
<path d="M169.99 296.99H174.21" stroke="#8a8a8a" stroke-width="0.75" fill="none"/>
<path d="M174.21 296.99V459.5" stroke="#c4c4c4" stroke-width="0.75" fill="none"/>
<rect x="174.79" y="346.14" width="4.22" height="113.36" fill="url(#gc)"/>
<path d="M174.79 459.5V346.14" stroke="#707070" stroke-width="0.75" fill="none"/>
<path d="M174.79 346.14H179.01" stroke="#8a8a8a" stroke-width="0.75" fill="none"/>
<path d="M179.01 346.14V459.5" stroke="#c4c4c4" stroke-width="0.75" fill="none"/>
<rect x="179.59" y="285.47" width="4.22" height="174.03" fill="url(#gc)"/>
<path d="M179.59 459.5V285.47" stroke="#707070" stroke-width="0.75" fill="none"/>
<path d="M179.59 285.47H183.81" stroke="#8a8a8a" stroke-width="0.75" fill="none"/>
<path d="M183.81 285.47V459.5" stroke="#c4c4c4" stroke-width="0.75" fill="none"/>
<rect x="184.39" y="357.09" width="4.22" height="102.41" fill="url(#gc)"/>
<path d="M184.39 459.5V357.09" stroke="#707070" stroke-width="0.75" fill="none"/>
<path d="M184.39 357.09H188.61" stroke="#8a8a8a" stroke-width="0.75" fill="none"/>
<path d="M188.61 357.09V459.5" stroke="#c4c4c4" stroke-width="0.75" fill="none"/>
<rect x="189.19" y="284.91" width="4.22" height="174.59" fill="url(#gc)"/>
<path d="M189.19 459.5V284.91" stroke="#707070" stroke-width="0.75" fill="none"/>
<path d="M189.19 284.91H193.41" stroke="#8a8a8a" stroke-width="0.75" fill="none"/>
<path d="M193.41 284.91V459.5" stroke="#c4c4c4" stroke-width="0.75" fill="none"/>
<rect x="193.99" y="359.06" width="4.22" height="100.44" fill="url(#gc)"/>
<path d="M193.99 459.5V359.06" stroke="#707070" stroke-width="0.75" fill="none"/>
<path d="M193.99 359.06H198.21" stroke="#8a8a8a" stroke-width="0.75" fill="none"/>
<path d="M198.21 359.06V459.5" stroke="#c4c4c4" stroke-width="0.75" fill="none"/>
<rect x="198.79" y="345.57" width="4.22" height="113.93" fill="url(#gc)"/>
<path d="M198.79 459.5V345.57" stroke="#707070" stroke-width="0.75" fill="none"/>
<path d="M198.79 345.57H203.01" stroke="#8a8a8a" stroke-width="0.75" fill="none"/>
<path d="M203.01 345.57V459.5" stroke="#c4c4c4" stroke-width="0.75" fill="none"/>
<rect x="203.59" y="351.75" width="4.22" height="107.75" fill="url(#gc)"/>
<path d="M203.59 459.5V351.75" stroke="#707070" stroke-width="0.75" fill="none"/>
<path d="M203.59 351.75H207.81" stroke="#8a8a8a" stroke-width="0.75" fill="none"/>
<path d="M207.81 351.75V459.5" stroke="#c4c4c4" stroke-width="0.75" fill="none"/>
<rect x="208.39" y="400.06" width="4.22" height="59.44" fill="url(#gc)"/>
<path d="M208.39 459.5V400.06" stroke="#707070" stroke-width="0.75" fill="none"/>
<path d="M208.39 400.06H212.61" stroke="#8a8a8a" stroke-width="0.75" fill="none"/>
<path d="M212.61 400.06V459.5" stroke="#c4c4c4" stroke-width="0.75" fill="none"/>
<rect x="213.19" y="319.17" width="4.22" height="140.33" fill="url(#gc)"/>
<path d="M213.19 459.5V319.17" stroke="#707070" stroke-width="0.75" fill="none"/>
<path d="M213.19 319.17H217.41" stroke="#8a8a8a" stroke-width="0.75" fill="none"/>
<path d="M217.41 319.17V459.5" stroke="#c4c4c4" stroke-width="0.75" fill="none"/>
<rect x="217.99" y="405.12" width="4.22" height="54.38" fill="url(#gc)"/>
<path d="M217.99 459.5V405.12" stroke="#707070" stroke-width="0.75" fill="none"/>
<path d="M217.99 405.12H222.21" stroke="#8a8a8a" stroke-width="0.75" fill="none"/>
<path d="M222.21 405.12V459.5" stroke="#c4c4c4" stroke-width="0.75" fill="none"/>
<rect x="222.79" y="396.13" width="4.22" height="63.37" fill="url(#gc)"/>
<path d="M222.79 459.5V396.13" stroke="#707070" stroke-width="0.75" fill="none"/>
<path d="M222.79 396.13H227.01" stroke="#8a8a8a" stroke-width="0.75" fill="none"/>
<path d="M227.01 396.13V459.5" stroke="#c4c4c4" stroke-width="0.75" fill="none"/>
<rect x="227.59" y="315.24" width="4.22" height="144.26" fill="url(#gc)"/>
<path d="M227.59 459.5V315.24" stroke="#707070" stroke-width="0.75" fill="none"/>
<path d="M227.59 315.24H231.81" stroke="#8a8a8a" stroke-width="0.75" fill="none"/>
<path d="M231.81 315.24V459.5" stroke="#c4c4c4" stroke-width="0.75" fill="none"/>
<rect x="232.39" y="384.05" width="4.22" height="75.45" fill="url(#gc)"/>
<path d="M232.39 459.5V384.05" stroke="#707070" stroke-width="0.75" fill="none"/>
<path d="M232.39 384.05H236.61" stroke="#8a8a8a" stroke-width="0.75" fill="none"/>
<path d="M236.61 384.05V459.5" stroke="#c4c4c4" stroke-width="0.75" fill="none"/>
<rect x="237.19" y="332.94" width="4.22" height="126.56" fill="url(#gc)"/>
<path d="M237.19 459.5V332.94" stroke="#707070" stroke-width="0.75" fill="none"/>
<path d="M237.19 332.94H241.41" stroke="#8a8a8a" stroke-width="0.75" fill="none"/>
<path d="M241.41 332.94V459.5" stroke="#c4c4c4" stroke-width="0.75" fill="none"/>
<rect x="241.99" y="405.12" width="4.22" height="54.38" fill="url(#gc)"/>
<path d="M241.99 459.5V405.12" stroke="#707070" stroke-width="0.75" fill="none"/>
<path d="M241.99 405.12H246.21" stroke="#8a8a8a" stroke-width="0.75" fill="none"/>
<path d="M246.21 405.12V459.5" stroke="#c4c4c4" stroke-width="0.75" fill="none"/>
<rect x="246.79" y="384.89" width="4.22" height="74.61" fill="url(#gc)"/>
<path d="M246.79 459.5V384.89" stroke="#707070" stroke-width="0.75" fill="none"/>
<path d="M246.79 384.89H251.01" stroke="#8a8a8a" stroke-width="0.75" fill="none"/>
<path d="M251.01 384.89V459.5" stroke="#c4c4c4" stroke-width="0.75" fill="none"/>
<rect x="251.59" y="388.83" width="4.22" height="70.67" fill="url(#gc)"/>
<path d="M251.59 459.5V388.83" stroke="#707070" stroke-width="0.75" fill="none"/>
<path d="M251.59 388.83H255.81" stroke="#8a8a8a" stroke-width="0.75" fill="none"/>
<path d="M255.81 388.83V459.5" stroke="#c4c4c4" stroke-width="0.75" fill="none"/>
<rect x="256.39" y="284.91" width="4.22" height="174.59" fill="url(#gc)"/>
<path d="M256.39 459.5V284.91" stroke="#707070" stroke-width="0.75" fill="none"/>
<path d="M256.39 284.91H260.61" stroke="#8a8a8a" stroke-width="0.75" fill="none"/>
<path d="M260.61 284.91V459.5" stroke="#c4c4c4" stroke-width="0.75" fill="none"/>
<rect x="261.19" y="341.64" width="4.22" height="117.86" fill="url(#gc)"/>
<path d="M261.19 459.5V341.64" stroke="#707070" stroke-width="0.75" fill="none"/>
<path d="M261.19 341.64H265.41" stroke="#8a8a8a" stroke-width="0.75" fill="none"/>
<path d="M265.41 341.64V459.5" stroke="#c4c4c4" stroke-width="0.75" fill="none"/>
<rect x="265.99" y="361.86" width="4.22" height="97.64" fill="url(#gc)"/>
<path d="M265.99 459.5V361.86" stroke="#707070" stroke-width="0.75" fill="none"/>
<path d="M265.99 361.86H270.21" stroke="#8a8a8a" stroke-width="0.75" fill="none"/>
<path d="M270.21 361.86V459.5" stroke="#c4c4c4" stroke-width="0.75" fill="none"/>
<rect x="270.79" y="373.66" width="4.22" height="85.84" fill="url(#gc)"/>
<path d="M270.79 459.5V373.66" stroke="#707070" stroke-width="0.75" fill="none"/>
<path d="M270.79 373.66H275.01" stroke="#8a8a8a" stroke-width="0.75" fill="none"/>
<path d="M275.01 373.66V459.5" stroke="#c4c4c4" stroke-width="0.75" fill="none"/>
<rect x="275.59" y="307.38" width="4.22" height="152.12" fill="url(#gc)"/>
<path d="M275.59 459.5V307.38" stroke="#707070" stroke-width="0.75" fill="none"/>
<path d="M275.59 307.38H279.81" stroke="#8a8a8a" stroke-width="0.75" fill="none"/>
<path d="M279.81 307.38V459.5" stroke="#c4c4c4" stroke-width="0.75" fill="none"/>
<rect x="280.39" y="291.09" width="4.22" height="168.41" fill="url(#gc)"/>
<path d="M280.39 459.5V291.09" stroke="#707070" stroke-width="0.75" fill="none"/>
<path d="M280.39 291.09H284.61" stroke="#8a8a8a" stroke-width="0.75" fill="none"/>
<path d="M284.61 291.09V459.5" stroke="#c4c4c4" stroke-width="0.75" fill="none"/>
<polyline points="47.3,385.17 52.1,387.14 56.9,383.77 61.7,336.59 66.5,311.31 71.3,299.52 76.1,296.15 80.9,296.15 85.7,283.79 90.5,292.21 95.3,284.91 100.1,397.53 104.9,279.58 109.7,374.22 114.5,293.34 119.3,371.41 124.1,284.35 128.9,375.91 133.7,306.26 138.5,296.43 143.3,301.2 148.1,304.01 152.9,365.8 157.7,337.15 162.5,316.37 167.3,288.84 172.1,300.64 176.9,344.45 181.7,284.91 186.5,352.88 191.3,284.35 196.1,357.37 200.9,343.89 205.7,350.35 210.5,394.72 215.3,318.05 220.1,400.62 224.9,391.8 229.7,314.12 234.5,381.8 239.3,332.09 244.1,400.9 248.9,383.21 253.7,387.7 258.5,286.03 263.3,342.77 268.1,360.74 272.9,370.85 277.7,311.87 282.5,289.97" fill="none" stroke="#f03c3c" stroke-width="0.65" stroke-dasharray="3.5,1.3"/>
<rect x="45.35" y="383.22" width="3.9" height="3.9" fill="#ff0000"/>
<rect x="50.15" y="385.19" width="3.9" height="3.9" fill="#ff0000"/>
<rect x="54.95" y="381.82" width="3.9" height="3.9" fill="#ff0000"/>
<rect x="59.75" y="334.64" width="3.9" height="3.9" fill="#ff0000"/>
<rect x="64.55" y="309.36" width="3.9" height="3.9" fill="#ff0000"/>
<rect x="69.35" y="297.57" width="3.9" height="3.9" fill="#ff0000"/>
<rect x="74.15" y="294.2" width="3.9" height="3.9" fill="#ff0000"/>
<rect x="78.95" y="294.2" width="3.9" height="3.9" fill="#ff0000"/>
<rect x="83.75" y="281.84" width="3.9" height="3.9" fill="#ff0000"/>
<rect x="88.55" y="290.26" width="3.9" height="3.9" fill="#ff0000"/>
<rect x="93.35" y="282.96" width="3.9" height="3.9" fill="#ff0000"/>
<rect x="98.15" y="395.58" width="3.9" height="3.9" fill="#ff0000"/>
<rect x="102.95" y="277.63" width="3.9" height="3.9" fill="#ff0000"/>
<rect x="107.75" y="372.27" width="3.9" height="3.9" fill="#ff0000"/>
<rect x="112.55" y="291.39" width="3.9" height="3.9" fill="#ff0000"/>
<rect x="117.35" y="369.46" width="3.9" height="3.9" fill="#ff0000"/>
<rect x="122.15" y="282.4" width="3.9" height="3.9" fill="#ff0000"/>
<rect x="126.95" y="373.96" width="3.9" height="3.9" fill="#ff0000"/>
<rect x="131.75" y="304.31" width="3.9" height="3.9" fill="#ff0000"/>
<rect x="136.55" y="294.48" width="3.9" height="3.9" fill="#ff0000"/>
<rect x="141.35" y="299.25" width="3.9" height="3.9" fill="#ff0000"/>
<rect x="146.15" y="302.06" width="3.9" height="3.9" fill="#ff0000"/>
<rect x="150.95" y="363.85" width="3.9" height="3.9" fill="#ff0000"/>
<rect x="155.75" y="335.2" width="3.9" height="3.9" fill="#ff0000"/>
<rect x="160.55" y="314.42" width="3.9" height="3.9" fill="#ff0000"/>
<rect x="165.35" y="286.89" width="3.9" height="3.9" fill="#ff0000"/>
<rect x="170.15" y="298.69" width="3.9" height="3.9" fill="#ff0000"/>
<rect x="174.95" y="342.5" width="3.9" height="3.9" fill="#ff0000"/>
<rect x="179.75" y="282.96" width="3.9" height="3.9" fill="#ff0000"/>
<rect x="184.55" y="350.93" width="3.9" height="3.9" fill="#ff0000"/>
<rect x="189.35" y="282.4" width="3.9" height="3.9" fill="#ff0000"/>
<rect x="194.15" y="355.42" width="3.9" height="3.9" fill="#ff0000"/>
<rect x="198.95" y="341.94" width="3.9" height="3.9" fill="#ff0000"/>
<rect x="203.75" y="348.4" width="3.9" height="3.9" fill="#ff0000"/>
<rect x="208.55" y="392.77" width="3.9" height="3.9" fill="#ff0000"/>
<rect x="213.35" y="316.1" width="3.9" height="3.9" fill="#ff0000"/>
<rect x="218.15" y="398.67" width="3.9" height="3.9" fill="#ff0000"/>
<rect x="222.95" y="389.85" width="3.9" height="3.9" fill="#ff0000"/>
<rect x="227.75" y="312.17" width="3.9" height="3.9" fill="#ff0000"/>
<rect x="232.55" y="379.85" width="3.9" height="3.9" fill="#ff0000"/>
<rect x="237.35" y="330.14" width="3.9" height="3.9" fill="#ff0000"/>
<rect x="242.15" y="398.95" width="3.9" height="3.9" fill="#ff0000"/>
<rect x="246.95" y="381.26" width="3.9" height="3.9" fill="#ff0000"/>
<rect x="251.75" y="385.75" width="3.9" height="3.9" fill="#ff0000"/>
<rect x="256.55" y="284.08" width="3.9" height="3.9" fill="#ff0000"/>
<rect x="261.35" y="340.82" width="3.9" height="3.9" fill="#ff0000"/>
<rect x="266.15" y="358.79" width="3.9" height="3.9" fill="#ff0000"/>
<rect x="270.95" y="368.9" width="3.9" height="3.9" fill="#ff0000"/>
<rect x="275.75" y="309.92" width="3.9" height="3.9" fill="#ff0000"/>
<rect x="280.55" y="288.02" width="3.9" height="3.9" fill="#ff0000"/>
<line x1="42.5" y1="263" x2="42.5" y2="459.5" stroke="#a0a4cc" stroke-width="1"/>
<line x1="287.5" y1="263" x2="287.5" y2="460" stroke="#f04c4c" stroke-width="1"/>
<line x1="42" y1="459.5" x2="287" y2="459.5" stroke="#1a1a1a" stroke-width="1.2"/>
<line x1="42.5" y1="459.5" x2="46.5" y2="459.5" stroke="#a0a4cc" stroke-width="1"/>
<text x="38.5" y="459.3" fill="#8388b8" font-size="8.3" text-anchor="end" dominant-baseline="central">0</text>
<text x="292" y="459.3" fill="#f03a3a" font-size="8.3" text-anchor="start" dominant-baseline="central">0</text>
<line x1="42.5" y1="431.5" x2="46.5" y2="431.5" stroke="#a0a4cc" stroke-width="1"/>
<text x="38.5" y="431.3" fill="#8388b8" font-size="8.3" text-anchor="end" dominant-baseline="central">5000</text>
<text x="292" y="431.3" fill="#f03a3a" font-size="8.3" text-anchor="start" dominant-baseline="central">5000</text>
<line x1="42.5" y1="403.5" x2="46.5" y2="403.5" stroke="#a0a4cc" stroke-width="1"/>
<text x="38.5" y="403.3" fill="#8388b8" font-size="8.3" text-anchor="end" dominant-baseline="central">10000</text>
<text x="292" y="403.3" fill="#f03a3a" font-size="8.3" text-anchor="start" dominant-baseline="central">10000</text>
<line x1="42.5" y1="375.5" x2="46.5" y2="375.5" stroke="#a0a4cc" stroke-width="1"/>
<text x="38.5" y="375.3" fill="#8388b8" font-size="8.3" text-anchor="end" dominant-baseline="central">15000</text>
<text x="292" y="375.3" fill="#f03a3a" font-size="8.3" text-anchor="start" dominant-baseline="central">15000</text>
<line x1="42.5" y1="347.5" x2="46.5" y2="347.5" stroke="#a0a4cc" stroke-width="1"/>
<text x="38.5" y="347.3" fill="#8388b8" font-size="8.3" text-anchor="end" dominant-baseline="central">20000</text>
<text x="292" y="347.3" fill="#f03a3a" font-size="8.3" text-anchor="start" dominant-baseline="central">20000</text>
<line x1="42.5" y1="319.5" x2="46.5" y2="319.5" stroke="#a0a4cc" stroke-width="1"/>
<text x="38.5" y="319.3" fill="#8388b8" font-size="8.3" text-anchor="end" dominant-baseline="central">25000</text>
<text x="292" y="319.3" fill="#f03a3a" font-size="8.3" text-anchor="start" dominant-baseline="central">25000</text>
<line x1="42.5" y1="291.5" x2="46.5" y2="291.5" stroke="#a0a4cc" stroke-width="1"/>
<text x="38.5" y="291.3" fill="#8388b8" font-size="8.3" text-anchor="end" dominant-baseline="central">30000</text>
<text x="292" y="291.3" fill="#f03a3a" font-size="8.3" text-anchor="start" dominant-baseline="central">30000</text>
<line x1="42.5" y1="263.5" x2="46.5" y2="263.5" stroke="#a0a4cc" stroke-width="1"/>
<text x="38.5" y="263.3" fill="#8388b8" font-size="8.3" text-anchor="end" dominant-baseline="central">35000</text>
<text x="292" y="263.3" fill="#f03a3a" font-size="8.3" text-anchor="start" dominant-baseline="central">35000</text>
<line x1="42.5" y1="445.5" x2="45" y2="445.5" stroke="#a0a4cc" stroke-width="1"/>
<line x1="42.5" y1="417.5" x2="45" y2="417.5" stroke="#a0a4cc" stroke-width="1"/>
<line x1="42.5" y1="389.5" x2="45" y2="389.5" stroke="#a0a4cc" stroke-width="1"/>
<line x1="42.5" y1="361.5" x2="45" y2="361.5" stroke="#a0a4cc" stroke-width="1"/>
<line x1="42.5" y1="333.5" x2="45" y2="333.5" stroke="#a0a4cc" stroke-width="1"/>
<line x1="42.5" y1="305.5" x2="45" y2="305.5" stroke="#a0a4cc" stroke-width="1"/>
<line x1="42.5" y1="277.5" x2="45" y2="277.5" stroke="#a0a4cc" stroke-width="1"/>
<line x1="42.5" y1="263.5" x2="287.5" y2="263.5" stroke="#555" stroke-width="1"/>
<line x1="283.5" y1="459.5" x2="287.5" y2="459.5" stroke="#f04c4c" stroke-width="1"/>
<line x1="283.5" y1="431.5" x2="287.5" y2="431.5" stroke="#f04c4c" stroke-width="1"/>
<line x1="283.5" y1="403.5" x2="287.5" y2="403.5" stroke="#f04c4c" stroke-width="1"/>
<line x1="283.5" y1="375.5" x2="287.5" y2="375.5" stroke="#f04c4c" stroke-width="1"/>
<line x1="283.5" y1="347.5" x2="287.5" y2="347.5" stroke="#f04c4c" stroke-width="1"/>
<line x1="283.5" y1="319.5" x2="287.5" y2="319.5" stroke="#f04c4c" stroke-width="1"/>
<line x1="283.5" y1="291.5" x2="287.5" y2="291.5" stroke="#f04c4c" stroke-width="1"/>
<line x1="283.5" y1="263.5" x2="287.5" y2="263.5" stroke="#f04c4c" stroke-width="1"/>
<line x1="285" y1="445.5" x2="287.5" y2="445.5" stroke="#f04c4c" stroke-width="1"/>
<line x1="285" y1="417.5" x2="287.5" y2="417.5" stroke="#f04c4c" stroke-width="1"/>
<line x1="285" y1="389.5" x2="287.5" y2="389.5" stroke="#f04c4c" stroke-width="1"/>
<line x1="285" y1="361.5" x2="287.5" y2="361.5" stroke="#f04c4c" stroke-width="1"/>
<line x1="285" y1="333.5" x2="287.5" y2="333.5" stroke="#f04c4c" stroke-width="1"/>
<line x1="285" y1="305.5" x2="287.5" y2="305.5" stroke="#f04c4c" stroke-width="1"/>
<line x1="285" y1="277.5" x2="287.5" y2="277.5" stroke="#f04c4c" stroke-width="1"/>
<line x1="42.5" y1="459.5" x2="42.5" y2="463.5" stroke="#3a3a3a" stroke-width="1"/>
<text x="42.5" y="470.1" fill="#111" font-size="8.3" text-anchor="middle" dominant-baseline="central">0</text>
<line x1="90.5" y1="459.5" x2="90.5" y2="463.5" stroke="#3a3a3a" stroke-width="1"/>
<text x="90.5" y="470.1" fill="#111" font-size="8.3" text-anchor="middle" dominant-baseline="central">10</text>
<line x1="138.5" y1="459.5" x2="138.5" y2="463.5" stroke="#3a3a3a" stroke-width="1"/>
<text x="138.5" y="470.1" fill="#111" font-size="8.3" text-anchor="middle" dominant-baseline="central">20</text>
<line x1="186.5" y1="459.5" x2="186.5" y2="463.5" stroke="#3a3a3a" stroke-width="1"/>
<text x="186.5" y="470.1" fill="#111" font-size="8.3" text-anchor="middle" dominant-baseline="central">30</text>
<line x1="234.5" y1="459.5" x2="234.5" y2="463.5" stroke="#3a3a3a" stroke-width="1"/>
<text x="234.5" y="470.1" fill="#111" font-size="8.3" text-anchor="middle" dominant-baseline="central">40</text>
<line x1="282.5" y1="459.5" x2="282.5" y2="463.5" stroke="#3a3a3a" stroke-width="1"/>
<text x="282.5" y="470.1" fill="#111" font-size="8.3" text-anchor="middle" dominant-baseline="central">50</text>
<line x1="66.5" y1="459.5" x2="66.5" y2="461.5" stroke="#3a3a3a" stroke-width="1"/>
<line x1="114.5" y1="459.5" x2="114.5" y2="461.5" stroke="#3a3a3a" stroke-width="1"/>
<line x1="162.5" y1="459.5" x2="162.5" y2="461.5" stroke="#3a3a3a" stroke-width="1"/>
<line x1="210.5" y1="459.5" x2="210.5" y2="461.5" stroke="#3a3a3a" stroke-width="1"/>
<line x1="258.5" y1="459.5" x2="258.5" y2="461.5" stroke="#3a3a3a" stroke-width="1"/>
<text x="165" y="486.7" fill="#222" font-size="10.4" text-anchor="middle" dominant-baseline="central">Number</text>
<text x="6" y="361.2" fill="#222" font-size="10.4" text-anchor="middle" dominant-baseline="central" transform="rotate(-90 6 361.2)">Simulation value (N)</text>
<text x="323.2" y="360" fill="#222" font-size="10.4" text-anchor="middle" dominant-baseline="central" transform="rotate(-90 323.2 360)">Predictive value (N)</text>
<text x="165.2" y="503.3" fill="#000" font-size="20" font-family='"Liberation Serif", serif' text-anchor="middle" dominant-baseline="central">(c)</text>
<rect x="192.6" y="264.4" width="66" height="17" fill="#fff" stroke="#999" stroke-width="0.8"/>
<rect x="193.8" y="265.6" width="14.3" height="6.7" fill="url(#glc)" stroke="#6a70a8" stroke-width="0.5"/>
<line x1="193.8" y1="276.7" x2="208.1" y2="276.7" stroke="#f49a9a" stroke-width="0.8"/>
<rect x="199.05" y="274.8" width="3.8" height="3.8" fill="#ff0000"/>
<text x="209.8" y="269.1" fill="#222" font-size="7.2" textLength="47.6" lengthAdjust="spacingAndGlyphs" dominant-baseline="central">Simulation value</text>
<text x="209.8" y="276.7" fill="#222" font-size="7.2" textLength="45.9" lengthAdjust="spacingAndGlyphs" dominant-baseline="central">Predictive value</text>
<rect x="400.95" y="312.83" width="19.56" height="147.67" fill="url(#gd)"/>
<path d="M400.95 460.5V312.83" stroke="#5a6066" stroke-width="0.9" fill="none"/>
<path d="M400.95 312.83H420.51" stroke="#a0a0a0" stroke-width="0.9" fill="none"/>
<path d="M420.51 312.83V460.5" stroke="#9aa0a6" stroke-width="0.9" fill="none"/>
<rect x="425.39" y="350.06" width="19.56" height="110.44" fill="url(#gd)"/>
<path d="M425.39 460.5V350.06" stroke="#5a6066" stroke-width="0.9" fill="none"/>
<path d="M425.39 350.06H444.95" stroke="#a0a0a0" stroke-width="0.9" fill="none"/>
<path d="M444.95 350.06V460.5" stroke="#9aa0a6" stroke-width="0.9" fill="none"/>
<rect x="449.85" y="288.19" width="19.56" height="172.31" fill="url(#gd)"/>
<path d="M449.85 460.5V288.19" stroke="#5a6066" stroke-width="0.9" fill="none"/>
<path d="M449.85 288.19H469.41" stroke="#a0a0a0" stroke-width="0.9" fill="none"/>
<path d="M469.41 288.19V460.5" stroke="#9aa0a6" stroke-width="0.9" fill="none"/>
<rect x="474.29" y="303.02" width="19.56" height="157.48" fill="url(#gd)"/>
<path d="M474.29 460.5V303.02" stroke="#5a6066" stroke-width="0.9" fill="none"/>
<path d="M474.29 303.02H493.85" stroke="#a0a0a0" stroke-width="0.9" fill="none"/>
<path d="M493.85 303.02V460.5" stroke="#9aa0a6" stroke-width="0.9" fill="none"/>
<rect x="498.75" y="377.3" width="19.56" height="83.2" fill="url(#gd)"/>
<path d="M498.75 460.5V377.3" stroke="#5a6066" stroke-width="0.9" fill="none"/>
<path d="M498.75 377.3H518.31" stroke="#a0a0a0" stroke-width="0.9" fill="none"/>
<path d="M518.31 377.3V460.5" stroke="#9aa0a6" stroke-width="0.9" fill="none"/>
<rect x="523.2" y="282.38" width="19.56" height="178.12" fill="url(#gd)"/>
<path d="M523.2 460.5V282.38" stroke="#5a6066" stroke-width="0.9" fill="none"/>
<path d="M523.2 282.38H542.76" stroke="#a0a0a0" stroke-width="0.9" fill="none"/>
<path d="M542.76 282.38V460.5" stroke="#9aa0a6" stroke-width="0.9" fill="none"/>
<rect x="547.64" y="387.39" width="19.56" height="73.11" fill="url(#gd)"/>
<path d="M547.64 460.5V387.39" stroke="#5a6066" stroke-width="0.9" fill="none"/>
<path d="M547.64 387.39H567.2" stroke="#a0a0a0" stroke-width="0.9" fill="none"/>
<path d="M567.2 387.39V460.5" stroke="#9aa0a6" stroke-width="0.9" fill="none"/>
<rect x="572.1" y="399.29" width="19.56" height="61.21" fill="url(#gd)"/>
<path d="M572.1 460.5V399.29" stroke="#5a6066" stroke-width="0.9" fill="none"/>
<path d="M572.1 399.29H591.65" stroke="#a0a0a0" stroke-width="0.9" fill="none"/>
<path d="M591.65 399.29V460.5" stroke="#9aa0a6" stroke-width="0.9" fill="none"/>
<rect x="596.55" y="330.43" width="19.56" height="130.07" fill="url(#gd)"/>
<path d="M596.55 460.5V330.43" stroke="#5a6066" stroke-width="0.9" fill="none"/>
<path d="M596.55 330.43H616.11" stroke="#a0a0a0" stroke-width="0.9" fill="none"/>
<path d="M616.11 330.43V460.5" stroke="#9aa0a6" stroke-width="0.9" fill="none"/>
<rect x="621" y="297.04" width="19.56" height="163.46" fill="url(#gd)"/>
<path d="M621 460.5V297.04" stroke="#5a6066" stroke-width="0.9" fill="none"/>
<path d="M621 297.04H640.56" stroke="#a0a0a0" stroke-width="0.9" fill="none"/>
<path d="M640.56 297.04V460.5" stroke="#9aa0a6" stroke-width="0.9" fill="none"/>
<polyline points="410.73,312.27 435.18,354.17 459.62,291.4 484.07,316.78 508.52,382.99 532.98,285.2 557.42,385.87 581.88,393.09 606.33,339 630.77,301.55" fill="none" stroke="#ff3030" stroke-width="0.8"/>
<rect x="408.83" y="310.37" width="3.8" height="3.8" fill="#ff0000"/>
<rect x="433.28" y="352.27" width="3.8" height="3.8" fill="#ff0000"/>
<rect x="457.73" y="289.5" width="3.8" height="3.8" fill="#ff0000"/>
<rect x="482.18" y="314.88" width="3.8" height="3.8" fill="#ff0000"/>
<rect x="506.62" y="381.09" width="3.8" height="3.8" fill="#ff0000"/>
<rect x="531.08" y="283.3" width="3.8" height="3.8" fill="#ff0000"/>
<rect x="555.52" y="383.97" width="3.8" height="3.8" fill="#ff0000"/>
<rect x="579.98" y="391.19" width="3.8" height="3.8" fill="#ff0000"/>
<rect x="604.43" y="337.1" width="3.8" height="3.8" fill="#ff0000"/>
<rect x="628.88" y="299.65" width="3.8" height="3.8" fill="#ff0000"/>
<line x1="398.5" y1="263.5" x2="398.5" y2="460.5" stroke="#a0a4cc" stroke-width="1"/>
<line x1="643.5" y1="263.5" x2="643.5" y2="461" stroke="#f04c4c" stroke-width="1"/>
<line x1="398" y1="460.5" x2="643" y2="460.5" stroke="#1a1a1a" stroke-width="1.2"/>
<line x1="398.5" y1="460.5" x2="402.5" y2="460.5" stroke="#a0a4cc" stroke-width="1"/>
<text x="394.5" y="460.3" fill="#8388b8" font-size="8.3" text-anchor="end" dominant-baseline="central">0</text>
<text x="648" y="460.3" fill="#f03a3a" font-size="8.3" text-anchor="start" dominant-baseline="central">0</text>
<line x1="398.5" y1="432.5" x2="402.5" y2="432.5" stroke="#a0a4cc" stroke-width="1"/>
<text x="394.5" y="432.3" fill="#8388b8" font-size="8.3" text-anchor="end" dominant-baseline="central">5000</text>
<text x="648" y="432.3" fill="#f03a3a" font-size="8.3" text-anchor="start" dominant-baseline="central">5000</text>
<line x1="398.5" y1="404.5" x2="402.5" y2="404.5" stroke="#a0a4cc" stroke-width="1"/>
<text x="394.5" y="404.3" fill="#8388b8" font-size="8.3" text-anchor="end" dominant-baseline="central">10000</text>
<text x="648" y="404.3" fill="#f03a3a" font-size="8.3" text-anchor="start" dominant-baseline="central">10000</text>
<line x1="398.5" y1="376.5" x2="402.5" y2="376.5" stroke="#a0a4cc" stroke-width="1"/>
<text x="394.5" y="376.3" fill="#8388b8" font-size="8.3" text-anchor="end" dominant-baseline="central">15000</text>
<text x="648" y="376.3" fill="#f03a3a" font-size="8.3" text-anchor="start" dominant-baseline="central">15000</text>
<line x1="398.5" y1="348.5" x2="402.5" y2="348.5" stroke="#a0a4cc" stroke-width="1"/>
<text x="394.5" y="348.3" fill="#8388b8" font-size="8.3" text-anchor="end" dominant-baseline="central">20000</text>
<text x="648" y="348.3" fill="#f03a3a" font-size="8.3" text-anchor="start" dominant-baseline="central">20000</text>
<line x1="398.5" y1="320.5" x2="402.5" y2="320.5" stroke="#a0a4cc" stroke-width="1"/>
<text x="394.5" y="320.3" fill="#8388b8" font-size="8.3" text-anchor="end" dominant-baseline="central">25000</text>
<text x="648" y="320.3" fill="#f03a3a" font-size="8.3" text-anchor="start" dominant-baseline="central">25000</text>
<line x1="398.5" y1="292.5" x2="402.5" y2="292.5" stroke="#a0a4cc" stroke-width="1"/>
<text x="394.5" y="292.3" fill="#8388b8" font-size="8.3" text-anchor="end" dominant-baseline="central">30000</text>
<text x="648" y="292.3" fill="#f03a3a" font-size="8.3" text-anchor="start" dominant-baseline="central">30000</text>
<line x1="398.5" y1="264.5" x2="402.5" y2="264.5" stroke="#a0a4cc" stroke-width="1"/>
<text x="394.5" y="264.3" fill="#8388b8" font-size="8.3" text-anchor="end" dominant-baseline="central">35000</text>
<text x="648" y="264.3" fill="#f03a3a" font-size="8.3" text-anchor="start" dominant-baseline="central">35000</text>
<line x1="398.5" y1="446.5" x2="401" y2="446.5" stroke="#a0a4cc" stroke-width="1"/>
<line x1="398.5" y1="418.5" x2="401" y2="418.5" stroke="#a0a4cc" stroke-width="1"/>
<line x1="398.5" y1="390.5" x2="401" y2="390.5" stroke="#a0a4cc" stroke-width="1"/>
<line x1="398.5" y1="362.5" x2="401" y2="362.5" stroke="#a0a4cc" stroke-width="1"/>
<line x1="398.5" y1="334.5" x2="401" y2="334.5" stroke="#a0a4cc" stroke-width="1"/>
<line x1="398.5" y1="306.5" x2="401" y2="306.5" stroke="#a0a4cc" stroke-width="1"/>
<line x1="398.5" y1="278.5" x2="401" y2="278.5" stroke="#a0a4cc" stroke-width="1"/>
<line x1="398.5" y1="264" x2="643.5" y2="264" stroke="#6e6e6e" stroke-width="1.5"/>
<line x1="639.5" y1="460.5" x2="643.5" y2="460.5" stroke="#f04c4c" stroke-width="1"/>
<line x1="639.5" y1="432.5" x2="643.5" y2="432.5" stroke="#f04c4c" stroke-width="1"/>
<line x1="639.5" y1="404.5" x2="643.5" y2="404.5" stroke="#f04c4c" stroke-width="1"/>
<line x1="639.5" y1="376.5" x2="643.5" y2="376.5" stroke="#f04c4c" stroke-width="1"/>
<line x1="639.5" y1="348.5" x2="643.5" y2="348.5" stroke="#f04c4c" stroke-width="1"/>
<line x1="639.5" y1="320.5" x2="643.5" y2="320.5" stroke="#f04c4c" stroke-width="1"/>
<line x1="639.5" y1="292.5" x2="643.5" y2="292.5" stroke="#f04c4c" stroke-width="1"/>
<line x1="639.5" y1="264.5" x2="643.5" y2="264.5" stroke="#f04c4c" stroke-width="1"/>
<line x1="641" y1="446.5" x2="643.5" y2="446.5" stroke="#f04c4c" stroke-width="1"/>
<line x1="641" y1="418.5" x2="643.5" y2="418.5" stroke="#f04c4c" stroke-width="1"/>
<line x1="641" y1="390.5" x2="643.5" y2="390.5" stroke="#f04c4c" stroke-width="1"/>
<line x1="641" y1="362.5" x2="643.5" y2="362.5" stroke="#f04c4c" stroke-width="1"/>
<line x1="641" y1="334.5" x2="643.5" y2="334.5" stroke="#f04c4c" stroke-width="1"/>
<line x1="641" y1="306.5" x2="643.5" y2="306.5" stroke="#f04c4c" stroke-width="1"/>
<line x1="641" y1="278.5" x2="643.5" y2="278.5" stroke="#f04c4c" stroke-width="1"/>
<line x1="410.5" y1="460.5" x2="410.5" y2="464.5" stroke="#3a3a3a" stroke-width="1"/>
<text x="410.5" y="471" fill="#111" font-size="8.3" text-anchor="middle" dominant-baseline="central">1</text>
<line x1="435.5" y1="460.5" x2="435.5" y2="464.5" stroke="#3a3a3a" stroke-width="1"/>
<text x="435.5" y="471" fill="#111" font-size="8.3" text-anchor="middle" dominant-baseline="central">2</text>
<line x1="459.5" y1="460.5" x2="459.5" y2="464.5" stroke="#3a3a3a" stroke-width="1"/>
<text x="459.5" y="471" fill="#111" font-size="8.3" text-anchor="middle" dominant-baseline="central">3</text>
<line x1="484.5" y1="460.5" x2="484.5" y2="464.5" stroke="#3a3a3a" stroke-width="1"/>
<text x="484.5" y="471" fill="#111" font-size="8.3" text-anchor="middle" dominant-baseline="central">4</text>
<line x1="508.5" y1="460.5" x2="508.5" y2="464.5" stroke="#3a3a3a" stroke-width="1"/>
<text x="508.5" y="471" fill="#111" font-size="8.3" text-anchor="middle" dominant-baseline="central">5</text>
<line x1="532.5" y1="460.5" x2="532.5" y2="464.5" stroke="#3a3a3a" stroke-width="1"/>
<text x="532.5" y="471" fill="#111" font-size="8.3" text-anchor="middle" dominant-baseline="central">6</text>
<line x1="557.5" y1="460.5" x2="557.5" y2="464.5" stroke="#3a3a3a" stroke-width="1"/>
<text x="557.5" y="471" fill="#111" font-size="8.3" text-anchor="middle" dominant-baseline="central">7</text>
<line x1="581.5" y1="460.5" x2="581.5" y2="464.5" stroke="#3a3a3a" stroke-width="1"/>
<text x="581.5" y="471" fill="#111" font-size="8.3" text-anchor="middle" dominant-baseline="central">8</text>
<line x1="606.5" y1="460.5" x2="606.5" y2="464.5" stroke="#3a3a3a" stroke-width="1"/>
<text x="606.5" y="471" fill="#111" font-size="8.3" text-anchor="middle" dominant-baseline="central">9</text>
<line x1="630.5" y1="460.5" x2="630.5" y2="464.5" stroke="#3a3a3a" stroke-width="1"/>
<text x="630.5" y="471" fill="#111" font-size="8.3" text-anchor="middle" dominant-baseline="central">10</text>
<line x1="422.5" y1="460.5" x2="422.5" y2="462.5" stroke="#3a3a3a" stroke-width="1"/>
<line x1="447.5" y1="460.5" x2="447.5" y2="462.5" stroke="#3a3a3a" stroke-width="1"/>
<line x1="471.5" y1="460.5" x2="471.5" y2="462.5" stroke="#3a3a3a" stroke-width="1"/>
<line x1="496.5" y1="460.5" x2="496.5" y2="462.5" stroke="#3a3a3a" stroke-width="1"/>
<line x1="520.5" y1="460.5" x2="520.5" y2="462.5" stroke="#3a3a3a" stroke-width="1"/>
<line x1="545.5" y1="460.5" x2="545.5" y2="462.5" stroke="#3a3a3a" stroke-width="1"/>
<line x1="569.5" y1="460.5" x2="569.5" y2="462.5" stroke="#3a3a3a" stroke-width="1"/>
<line x1="594.5" y1="460.5" x2="594.5" y2="462.5" stroke="#3a3a3a" stroke-width="1"/>
<line x1="618.5" y1="460.5" x2="618.5" y2="462.5" stroke="#3a3a3a" stroke-width="1"/>
<text x="520.6" y="487.1" fill="#222" font-size="10.4" text-anchor="middle" dominant-baseline="central">Number</text>
<text x="361.6" y="361.2" fill="#222" font-size="10.4" text-anchor="middle" dominant-baseline="central" transform="rotate(-90 361.6 361.2)">Simulation value (N)</text>
<text x="679.5" y="360.5" fill="#222" font-size="10.4" text-anchor="middle" dominant-baseline="central" transform="rotate(-90 679.5 360.5)">Predictive value (N)</text>
<text x="520.6" y="503.3" fill="#000" font-size="20" font-family='"Liberation Serif", serif' text-anchor="middle" dominant-baseline="central">(d)</text>
<rect x="548.7" y="265.2" width="65.8" height="16.1" fill="#fff" stroke="#d8d8d8" stroke-width="0.6"/>
<line x1="548.7" y1="281.3" x2="614.5" y2="281.3" stroke="#777" stroke-width="0.9"/>
<rect x="549.4" y="266.1" width="14.3" height="6.5" fill="url(#gld)" stroke="#7a80b0" stroke-width="0.5"/>
<line x1="549.4" y1="277.5" x2="563.7" y2="277.5" stroke="#ff3030" stroke-width="0.8"/>
<rect x="554.65" y="275.6" width="3.8" height="3.8" fill="#ff0000"/>
<text x="566" y="269.6" fill="#222" font-size="7.2" textLength="47.3" lengthAdjust="spacingAndGlyphs" dominant-baseline="central">Simulation value</text>
<text x="566" y="277.5" fill="#222" font-size="7.2" textLength="45.8" lengthAdjust="spacingAndGlyphs" dominant-baseline="central">Predictive value</text>
</svg>
</body></html>
